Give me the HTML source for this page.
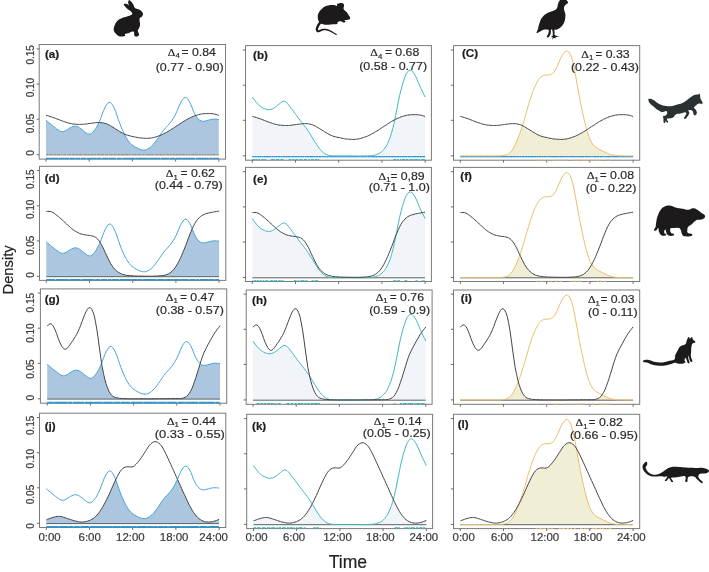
<!DOCTYPE html>
<html lang="en"><head><meta charset="utf-8"><title>Activity overlap</title>
<style>html,body{margin:0;padding:0;background:#fff}svg{display:block;will-change:transform;opacity:0.999}text{stroke:#2d2d2d;stroke-width:0.2px;paint-order:stroke}</style></head>
<body><svg width="709" height="572" viewBox="0 0 709 572">
<rect width="709" height="572" fill="#fff"/>
<g font-family="'Liberation Sans', Arial, sans-serif">
<g>
<path d="M46.0 120.1 L47.3 121.3 L48.7 122.4 L50.0 123.6 L51.4 124.7 L52.7 125.8 L54.0 126.9 L55.4 127.9 L56.7 129.0 L58.1 129.9 L59.4 130.8 L60.7 131.4 L62.1 131.7 L63.4 131.6 L64.8 131.1 L66.1 130.4 L67.4 129.6 L68.8 128.7 L70.1 127.9 L71.5 127.2 L72.8 126.6 L74.1 126.2 L75.5 126.1 L76.8 126.4 L78.1 126.9 L79.5 127.7 L80.8 128.7 L82.2 129.7 L83.5 130.8 L84.8 131.9 L86.2 132.9 L87.5 133.7 L88.9 134.2 L90.2 134.1 L91.5 133.5 L92.9 132.2 L94.2 130.6 L95.6 128.8 L96.9 126.6 L98.2 124.1 L99.6 122.5 L100.9 122.6 L102.3 122.8 L103.6 123.0 L104.9 123.4 L106.3 123.8 L107.6 124.3 L109.0 125.0 L110.3 125.7 L111.6 126.5 L113.0 127.3 L114.3 128.1 L115.7 129.0 L117.0 129.9 L118.3 130.7 L119.7 131.5 L121.0 132.3 L122.4 133.1 L123.7 133.7 L125.0 135.5 L126.4 138.0 L127.7 140.1 L129.1 141.9 L130.4 143.4 L131.7 144.6 L133.1 145.6 L134.4 146.5 L135.7 147.3 L137.1 148.0 L138.4 148.7 L139.8 149.3 L141.1 149.7 L142.4 150.0 L143.8 150.1 L145.1 150.0 L146.5 149.6 L147.8 149.0 L149.1 148.2 L150.5 147.2 L151.8 146.0 L153.2 144.6 L154.5 143.0 L155.8 141.3 L157.2 139.4 L158.5 137.5 L159.9 135.5 L161.2 135.0 L162.5 134.4 L163.9 133.7 L165.2 133.0 L166.6 132.3 L167.9 131.5 L169.2 130.7 L170.6 129.9 L171.9 129.1 L173.3 128.2 L174.6 127.3 L175.9 126.4 L177.3 125.5 L178.6 124.7 L180.0 123.8 L181.3 122.9 L182.6 122.1 L184.0 121.2 L185.3 120.4 L186.7 119.6 L188.0 118.9 L189.3 118.2 L190.7 117.5 L192.0 116.9 L193.3 116.4 L194.7 115.8 L196.0 116.1 L197.4 118.0 L198.7 119.4 L200.0 120.4 L201.4 121.0 L202.7 121.3 L204.1 121.2 L205.4 121.0 L206.7 120.6 L208.1 120.2 L209.4 119.9 L210.8 119.5 L212.1 119.3 L213.4 119.1 L214.8 119.1 L216.1 119.2 L217.5 119.3 L218.8 119.5 L218.8 154.8 L46.0 154.8Z" fill="#abc6de"/>
<path d="M46.0 155.5H218.8" stroke="#f3cfa6" stroke-width="0.9"/>
<path d="M46.0 154.7h2.1M48.6 154.7h3.0M51.9 154.7h1.5M53.9 154.7h2.1M56.5 154.7h3.6M60.7 154.7h1.9M63.3 154.7h2.8M66.8 154.7h1.7M69.0 154.7h2.3M72.0 154.7h2.7M75.4 154.7h3.3M79.2 154.7h3.5M83.5 154.7h3.7M87.6 154.7h2.0M90.1 154.7h3.1M93.7 154.7h2.5M96.8 154.7h3.0M100.4 154.7h3.8M105.0 154.7h3.2M108.9 154.7h3.9M113.4 154.7h3.3M117.4 154.7h2.9M120.7 154.7h3.6M124.7 154.7h3.5M128.5 154.7h2.2M131.5 154.7h1.6M133.4 154.7h3.3M137.5 154.7h4.0M142.2 154.7h2.3M145.1 154.7h1.6M147.2 154.7h3.0M150.5 154.7h3.7M155.0 154.7h3.7M159.3 154.7h2.8M162.6 154.7h2.9M166.3 154.7h2.8M169.7 154.7h2.1M172.6 154.7h2.8M175.7 154.7h2.5M178.6 154.7h3.0M182.0 154.7h3.1M185.7 154.7h2.4M188.7 154.7h1.6M190.9 154.7h3.9M195.3 154.7h3.0M198.8 154.7h2.3M201.7 154.7h2.3M204.6 154.7h1.6M206.9 154.7h2.3M209.8 154.7h2.1M212.4 154.7h3.2M216.2 154.7h2.3" stroke="#7f8790" stroke-width="1.0" fill="none"/>
<path d="M46.0 120.1 L47.3 121.3 L48.7 122.4 L50.0 123.6 L51.4 124.7 L52.7 125.8 L54.0 126.9 L55.4 127.9 L56.7 129.0 L58.1 129.9 L59.4 130.8 L60.7 131.4 L62.1 131.7 L63.4 131.6 L64.8 131.1 L66.1 130.4 L67.4 129.6 L68.8 128.7 L70.1 127.9 L71.5 127.2 L72.8 126.6 L74.1 126.2 L75.5 126.1 L76.8 126.4 L78.1 126.9 L79.5 127.7 L80.8 128.7 L82.2 129.7 L83.5 130.8 L84.8 131.9 L86.2 132.9 L87.5 133.7 L88.9 134.2 L90.2 134.1 L91.5 133.5 L92.9 132.2 L94.2 130.6 L95.6 128.8 L96.9 126.6 L98.2 124.1 L99.6 121.2 L100.9 117.7 L102.3 114.0 L103.6 110.6 L104.9 107.7 L106.3 105.2 L107.6 103.3 L109.0 102.3 L110.3 102.4 L111.6 103.7 L113.0 105.7 L114.3 108.4 L115.7 111.6 L117.0 115.4 L118.3 119.4 L119.7 123.2 L121.0 126.7 L122.4 129.9 L123.7 132.8 L125.0 135.5 L126.4 138.0 L127.7 140.1 L129.1 141.9 L130.4 143.4 L131.7 144.6 L133.1 145.6 L134.4 146.5 L135.7 147.3 L137.1 148.0 L138.4 148.7 L139.8 149.3 L141.1 149.7 L142.4 150.0 L143.8 150.1 L145.1 150.0 L146.5 149.6 L147.8 149.0 L149.1 148.2 L150.5 147.2 L151.8 146.0 L153.2 144.6 L154.5 143.0 L155.8 141.3 L157.2 139.4 L158.5 137.5 L159.9 135.5 L161.2 133.5 L162.5 131.6 L163.9 129.8 L165.2 128.2 L166.6 126.8 L167.9 125.4 L169.2 123.9 L170.6 122.3 L171.9 120.5 L173.3 118.4 L174.6 116.1 L175.9 113.5 L177.3 110.5 L178.6 107.2 L180.0 104.0 L181.3 101.4 L182.6 99.4 L184.0 98.0 L185.3 97.4 L186.7 97.9 L188.0 99.3 L189.3 101.4 L190.7 104.1 L192.0 107.4 L193.3 110.8 L194.7 113.7 L196.0 116.1 L197.4 118.0 L198.7 119.4 L200.0 120.4 L201.4 121.0 L202.7 121.3 L204.1 121.2 L205.4 121.0 L206.7 120.6 L208.1 120.2 L209.4 119.9 L210.8 119.5 L212.1 119.3 L213.4 119.1 L214.8 119.1 L216.1 119.2 L217.5 119.3 L218.8 119.5" fill="none" stroke="#45a5da" stroke-width="1.0"/>
<path d="M46.0 115.2 L47.3 115.6 L48.7 116.0 L50.0 116.5 L51.4 116.9 L52.7 117.3 L54.0 117.8 L55.4 118.3 L56.7 118.8 L58.1 119.3 L59.4 119.8 L60.7 120.4 L62.1 120.9 L63.4 121.4 L64.8 121.8 L66.1 122.3 L67.4 122.7 L68.8 123.1 L70.1 123.4 L71.5 123.7 L72.8 124.0 L74.1 124.1 L75.5 124.2 L76.8 124.3 L78.1 124.4 L79.5 124.4 L80.8 124.4 L82.2 124.3 L83.5 124.3 L84.8 124.1 L86.2 124.0 L87.5 123.8 L88.9 123.6 L90.2 123.4 L91.5 123.2 L92.9 123.0 L94.2 122.9 L95.6 122.7 L96.9 122.6 L98.2 122.5 L99.6 122.5 L100.9 122.6 L102.3 122.8 L103.6 123.0 L104.9 123.4 L106.3 123.8 L107.6 124.3 L109.0 125.0 L110.3 125.7 L111.6 126.5 L113.0 127.3 L114.3 128.1 L115.7 129.0 L117.0 129.9 L118.3 130.7 L119.7 131.5 L121.0 132.3 L122.4 133.1 L123.7 133.7 L125.0 134.4 L126.4 134.9 L127.7 135.3 L129.1 135.7 L130.4 136.0 L131.7 136.3 L133.1 136.6 L134.4 136.8 L135.7 137.2 L137.1 137.4 L138.4 137.7 L139.8 137.9 L141.1 138.0 L142.4 138.1 L143.8 138.2 L145.1 138.3 L146.5 138.3 L147.8 138.3 L149.1 138.2 L150.5 138.1 L151.8 137.9 L153.2 137.6 L154.5 137.3 L155.8 136.9 L157.2 136.5 L158.5 136.0 L159.9 135.5 L161.2 135.0 L162.5 134.4 L163.9 133.7 L165.2 133.0 L166.6 132.3 L167.9 131.5 L169.2 130.7 L170.6 129.9 L171.9 129.1 L173.3 128.2 L174.6 127.3 L175.9 126.4 L177.3 125.5 L178.6 124.7 L180.0 123.8 L181.3 122.9 L182.6 122.1 L184.0 121.2 L185.3 120.4 L186.7 119.6 L188.0 118.9 L189.3 118.2 L190.7 117.5 L192.0 116.9 L193.3 116.4 L194.7 115.8 L196.0 115.4 L197.4 115.0 L198.7 114.6 L200.0 114.3 L201.4 114.0 L202.7 113.8 L204.1 113.7 L205.4 113.6 L206.7 113.6 L208.1 113.6 L209.4 113.6 L210.8 113.6 L212.1 113.7 L213.4 113.9 L214.8 114.1 L216.1 114.5 L217.5 114.9 L218.8 115.4" fill="none" stroke="#454545" stroke-width="1.0"/>
<rect x="39.2" y="44.5" width="186.3" height="114.6" fill="none" stroke="#7a7a7a" stroke-width="1"/>
<path d="M36.6 154.7H39.2M36.6 119.2H39.2M36.6 84.1H39.2M36.6 48.9H39.2M46.0 159.1v2.4M89.2 159.1v2.4M132.4 159.1v2.4M175.6 159.1v2.4M218.8 159.1v2.4" stroke="#6a6a6a" stroke-width="1" fill="none"/>
<path d="M46.0 158.5h12.4M58.8 158.5h10.2M69.4 158.5h5.5M75.3 158.5h5.1M81.0 158.5h5.0M86.6 158.5h10.1M97.1 158.5h4.4M102.1 158.5h6.0M108.5 158.5h7.6M116.8 158.5h4.7M122.2 158.5h12.7M135.2 158.5h13.5M149.0 158.5h11.2M160.7 158.5h8.7M169.8 158.5h5.5M175.8 158.5h6.2M182.2 158.5h12.9M195.8 158.5h12.9M209.2 158.5h3.1M212.6 158.5h6.2" stroke="#2b95d2" stroke-width="1.6" fill="none"/>
<text transform="translate(44.9 58.0) scale(1.07 1)" font-size="10.9" font-weight="bold" fill="#1e1e1e" stroke="none">(a)</text>
<text transform="translate(167.8 55.6) scale(1.09 1)" font-size="11.3" fill="#2a2a2a"><tspan font-family="'Liberation Serif', serif" font-size="10.8">Δ</tspan><tspan x="6.97" dy="2.6" font-size="7.2">4</tspan><tspan x="14.47" dy="-2.6" text-anchor="middle" font-size="10.4"> =</tspan><tspan x="44.13" text-anchor="end"> 0.84</tspan></text>
<text transform="translate(223.6 70.5) scale(1.105 1)" font-size="11.3" text-anchor="end" fill="#2a2a2a">(0.77 - 0.90)</text>
</g>
<g>
<path d="M252.3 116.3 L253.6 116.7 L255.0 117.1 L256.3 117.6 L257.7 118.0 L259.0 118.4 L260.3 118.9 L261.7 119.4 L263.0 119.9 L264.4 120.4 L265.7 120.9 L267.0 121.5 L268.4 122.0 L269.7 122.5 L271.1 122.9 L272.4 123.4 L273.7 123.8 L275.1 124.2 L276.4 124.5 L277.8 124.8 L279.1 125.1 L280.4 125.2 L281.8 125.3 L283.1 125.4 L284.4 125.5 L285.8 125.5 L287.1 125.5 L288.5 125.4 L289.8 125.4 L291.1 125.2 L292.5 125.1 L293.8 124.9 L295.2 124.7 L296.5 124.5 L297.8 124.3 L299.2 124.1 L300.5 124.0 L301.9 123.8 L303.2 124.2 L304.5 125.9 L305.9 127.7 L307.2 129.6 L308.6 131.5 L309.9 133.6 L311.2 135.8 L312.6 138.0 L313.9 140.3 L315.3 142.4 L316.6 144.5 L317.9 146.5 L319.3 148.4 L320.6 150.0 L322.0 151.4 L323.3 152.6 L324.6 153.6 L326.0 154.4 L327.3 154.9 L328.7 155.3 L330.0 155.6 L331.3 155.8 L332.7 155.9 L334.0 155.9 L335.4 155.9 L336.7 155.9 L338.0 155.9 L339.4 155.9 L340.7 155.9 L342.0 155.9 L343.4 155.9 L344.7 155.9 L346.1 155.9 L347.4 155.9 L348.7 155.9 L350.1 155.9 L351.4 155.9 L352.8 155.9 L354.1 155.9 L355.4 155.9 L356.8 156.0 L358.1 156.0 L359.5 156.0 L360.8 156.0 L362.1 156.0 L363.5 156.0 L364.8 155.9 L366.2 155.9 L367.5 155.8 L368.8 155.8 L370.2 155.7 L371.5 155.6 L372.9 155.5 L374.2 155.2 L375.5 154.9 L376.9 154.4 L378.2 153.9 L379.6 153.3 L380.9 152.4 L382.2 151.2 L383.6 149.8 L384.9 148.1 L386.3 146.1 L387.6 143.5 L388.9 140.4 L390.3 136.9 L391.6 132.6 L393.0 127.6 L394.3 121.9 L395.6 119.3 L397.0 118.6 L398.3 118.0 L399.6 117.5 L401.0 116.9 L402.3 116.5 L403.7 116.1 L405.0 115.7 L406.3 115.4 L407.7 115.1 L409.0 114.9 L410.4 114.8 L411.7 114.7 L413.0 114.7 L414.4 114.7 L415.7 114.7 L417.1 114.7 L418.4 114.8 L419.7 115.0 L421.1 115.2 L422.4 115.6 L423.8 116.0 L425.1 116.5 L425.1 155.9 L252.3 155.9Z" fill="#f1f5f9"/>
<path d="M252.3 156.7H425.1" stroke="#8cc4e8" stroke-width="1.3"/>
<path d="M252.3 156.7h1.9M254.8 156.7h1.8M257.2 156.7h2.0M259.6 156.7h1.4M261.7 156.7h1.4M263.7 156.7h2.8M266.8 156.7h2.4M269.5 156.7h1.6M271.6 156.7h1.9M274.2 156.7h1.0M275.5 156.7h1.3M277.5 156.7h2.9M280.9 156.7h1.7M283.0 156.7h2.4M285.9 156.7h1.4M287.6 156.7h2.2M290.3 156.7h1.2M291.9 156.7h2.3M294.7 156.7h2.8M298.0 156.7h1.8M300.4 156.7h1.9M302.8 156.7h1.5M304.9 156.7h1.2M306.5 156.7h2.9M309.9 156.7h3.0M313.3 156.7h2.0M315.9 156.7h2.5M319.0 156.7h2.5M322.0 156.7h1.2M323.5 156.7h1.3M325.2 156.7h1.2M327.0 156.7h1.4M329.0 156.7h1.3M330.9 156.7h2.8M334.3 156.7h2.8M337.6 156.7h2.1M340.1 156.7h2.6M343.1 156.7h1.7M345.4 156.7h1.5M347.3 156.7h2.4M350.1 156.7h1.8M352.4 156.7h1.9M354.8 156.7h3.1M358.6 156.7h1.4M360.5 156.7h2.5M363.5 156.7h2.4M366.3 156.7h1.2M368.1 156.7h2.1M370.9 156.7h1.4M372.7 156.7h2.3M375.3 156.7h2.5M378.3 156.7h2.6M381.5 156.7h2.3M384.1 156.7h1.1M385.6 156.7h1.4M387.5 156.7h2.7M390.9 156.7h2.1M393.4 156.7h2.8M396.8 156.7h2.1M399.5 156.7h1.9M402.0 156.7h2.0M404.4 156.7h2.6M407.7 156.7h2.9M411.0 156.7h1.6M413.1 156.7h2.9M416.4 156.7h2.9M419.8 156.7h2.6M422.7 156.7h2.4" stroke="#2f92d2" stroke-width="1.3" fill="none"/>
<path d="M252.3 97.0 L253.6 98.9 L255.0 100.7 L256.3 102.4 L257.7 104.0 L259.0 105.3 L260.3 106.4 L261.7 107.3 L263.0 108.1 L264.4 108.7 L265.7 109.2 L267.0 109.5 L268.4 109.7 L269.7 109.6 L271.1 109.4 L272.4 108.9 L273.7 108.2 L275.1 107.3 L276.4 106.3 L277.8 105.2 L279.1 104.1 L280.4 103.0 L281.8 102.0 L283.1 101.3 L284.4 101.3 L285.8 101.9 L287.1 103.2 L288.5 104.8 L289.8 106.6 L291.1 108.3 L292.5 110.0 L293.8 111.8 L295.2 113.6 L296.5 115.4 L297.8 117.3 L299.2 119.0 L300.5 120.8 L301.9 122.5 L303.2 124.2 L304.5 125.9 L305.9 127.7 L307.2 129.6 L308.6 131.5 L309.9 133.6 L311.2 135.8 L312.6 138.0 L313.9 140.3 L315.3 142.4 L316.6 144.5 L317.9 146.5 L319.3 148.4 L320.6 150.0 L322.0 151.4 L323.3 152.6 L324.6 153.6 L326.0 154.4 L327.3 154.9 L328.7 155.3 L330.0 155.6 L331.3 155.8 L332.7 155.9 L334.0 155.9 L335.4 155.9 L336.7 155.9 L338.0 155.9 L339.4 155.9 L340.7 155.9 L342.0 155.9 L343.4 155.9 L344.7 155.9 L346.1 155.9 L347.4 155.9 L348.7 155.9 L350.1 155.9 L351.4 155.9 L352.8 155.9 L354.1 155.9 L355.4 155.9 L356.8 156.0 L358.1 156.0 L359.5 156.0 L360.8 156.0 L362.1 156.0 L363.5 156.0 L364.8 155.9 L366.2 155.9 L367.5 155.8 L368.8 155.8 L370.2 155.7 L371.5 155.6 L372.9 155.5 L374.2 155.2 L375.5 154.9 L376.9 154.4 L378.2 153.9 L379.6 153.3 L380.9 152.4 L382.2 151.2 L383.6 149.8 L384.9 148.1 L386.3 146.1 L387.6 143.5 L388.9 140.4 L390.3 136.9 L391.6 132.6 L393.0 127.6 L394.3 121.9 L395.6 115.5 L397.0 108.6 L398.3 101.8 L399.6 95.6 L401.0 90.0 L402.3 85.0 L403.7 80.6 L405.0 76.7 L406.3 73.7 L407.7 71.7 L409.0 70.5 L410.4 70.2 L411.7 70.8 L413.0 72.1 L414.4 74.1 L415.7 76.5 L417.1 79.4 L418.4 82.6 L419.7 85.8 L421.1 88.7 L422.4 91.5 L423.8 94.3 L425.1 97.0" fill="none" stroke="#3fb8c5" stroke-width="1.0"/>
<path d="M252.3 116.3 L253.6 116.7 L255.0 117.1 L256.3 117.6 L257.7 118.0 L259.0 118.4 L260.3 118.9 L261.7 119.4 L263.0 119.9 L264.4 120.4 L265.7 120.9 L267.0 121.5 L268.4 122.0 L269.7 122.5 L271.1 122.9 L272.4 123.4 L273.7 123.8 L275.1 124.2 L276.4 124.5 L277.8 124.8 L279.1 125.1 L280.4 125.2 L281.8 125.3 L283.1 125.4 L284.4 125.5 L285.8 125.5 L287.1 125.5 L288.5 125.4 L289.8 125.4 L291.1 125.2 L292.5 125.1 L293.8 124.9 L295.2 124.7 L296.5 124.5 L297.8 124.3 L299.2 124.1 L300.5 124.0 L301.9 123.8 L303.2 123.7 L304.5 123.6 L305.9 123.6 L307.2 123.7 L308.6 123.9 L309.9 124.1 L311.2 124.5 L312.6 124.9 L313.9 125.4 L315.3 126.1 L316.6 126.8 L317.9 127.6 L319.3 128.4 L320.6 129.2 L322.0 130.1 L323.3 131.0 L324.6 131.8 L326.0 132.6 L327.3 133.4 L328.7 134.2 L330.0 134.8 L331.3 135.5 L332.7 136.0 L334.0 136.4 L335.4 136.8 L336.7 137.1 L338.0 137.4 L339.4 137.7 L340.7 137.9 L342.0 138.3 L343.4 138.5 L344.7 138.8 L346.1 139.0 L347.4 139.1 L348.7 139.2 L350.1 139.3 L351.4 139.4 L352.8 139.4 L354.1 139.4 L355.4 139.3 L356.8 139.2 L358.1 139.0 L359.5 138.7 L360.8 138.4 L362.1 138.0 L363.5 137.6 L364.8 137.1 L366.2 136.6 L367.5 136.1 L368.8 135.5 L370.2 134.8 L371.5 134.1 L372.9 133.4 L374.2 132.6 L375.5 131.8 L376.9 131.0 L378.2 130.2 L379.6 129.3 L380.9 128.4 L382.2 127.5 L383.6 126.6 L384.9 125.8 L386.3 124.9 L387.6 124.0 L388.9 123.2 L390.3 122.3 L391.6 121.5 L393.0 120.7 L394.3 120.0 L395.6 119.3 L397.0 118.6 L398.3 118.0 L399.6 117.5 L401.0 116.9 L402.3 116.5 L403.7 116.1 L405.0 115.7 L406.3 115.4 L407.7 115.1 L409.0 114.9 L410.4 114.8 L411.7 114.7 L413.0 114.7 L414.4 114.7 L415.7 114.7 L417.1 114.7 L418.4 114.8 L419.7 115.0 L421.1 115.2 L422.4 115.6 L423.8 116.0 L425.1 116.5" fill="none" stroke="#454545" stroke-width="1.0"/>
<rect x="245.5" y="45.6" width="185.9" height="114.6" fill="none" stroke="#7a7a7a" stroke-width="1"/>
<path d="M242.9 155.8H245.5M242.9 120.3H245.5M242.9 85.2H245.5M242.9 50.0H245.5M252.3 160.2v2.4M295.5 160.2v2.4M338.7 160.2v2.4M381.9 160.2v2.4M425.1 160.2v2.4" stroke="#6a6a6a" stroke-width="1" fill="none"/>
<path d="M252.3 159.5h2.7M255.4 159.5h2.0M258.4 159.5h1.6M261.6 159.5h2.2M264.3 159.5h1.8M270.9 159.5h3.8M276.0 159.5h3.3M280.5 159.5h3.0M288.7 159.5h2.6M292.3 159.5h2.1M295.5 159.5h2.7M299.4 159.5h2.9M303.8 159.5h3.0M308.2 159.5h1.4M310.9 159.5h2.8M314.9 159.5h2.4M317.9 159.5h1.2" stroke="#2fb3be" stroke-width="1.2" fill="none"/>
<path d="M393.4 159.5h2.6M396.9 159.5h1.8M400.1 159.5h1.1M401.9 159.5h3.3M406.1 159.5h2.2M409.6 159.5h2.1M412.2 159.5h1.8M414.5 159.5h3.3M418.5 159.5h1.6M421.3 159.5h3.4" stroke="#2fb3be" stroke-width="1.2" fill="none"/>
<text transform="translate(253.1 59.4) scale(1.07 1)" font-size="10.9" font-weight="bold" fill="#1e1e1e" stroke="none">(b)</text>
<text transform="translate(370.3 55.9) scale(1.09 1)" font-size="11.3" fill="#2a2a2a"><tspan font-family="'Liberation Serif', serif" font-size="10.8">Δ</tspan><tspan x="6.97" dy="2.6" font-size="7.2">4</tspan><tspan x="15.30" dy="-2.6" text-anchor="middle" font-size="10.4"> =</tspan><tspan x="44.95" text-anchor="end"> 0.68</tspan></text>
<text transform="translate(427.1 70.4) scale(1.105 1)" font-size="11.3" text-anchor="end" fill="#2a2a2a">(0.58 - 0.77)</text>
</g>
<g>
<path d="M460.3 155.9 L461.6 155.9 L463.0 155.9 L464.3 155.9 L465.7 155.9 L467.0 155.9 L468.3 155.9 L469.7 155.9 L471.0 155.9 L472.4 155.9 L473.7 155.9 L475.0 155.9 L476.4 155.9 L477.7 155.9 L479.1 155.9 L480.4 155.9 L481.7 155.9 L483.1 155.9 L484.4 155.9 L485.8 155.9 L487.1 155.9 L488.4 155.9 L489.8 155.9 L491.1 155.9 L492.4 155.9 L493.8 155.9 L495.1 155.9 L496.5 155.9 L497.8 155.8 L499.1 155.8 L500.5 155.8 L501.8 155.7 L503.2 155.6 L504.5 155.3 L505.8 155.0 L507.2 154.5 L508.5 153.8 L509.9 152.7 L511.2 151.3 L512.5 149.5 L513.9 147.2 L515.2 144.5 L516.6 141.5 L517.9 138.3 L519.2 134.9 L520.6 131.2 L521.9 127.2 L523.3 126.1 L524.6 126.8 L525.9 127.6 L527.3 128.4 L528.6 129.2 L530.0 130.1 L531.3 131.0 L532.6 131.8 L534.0 132.6 L535.3 133.4 L536.7 134.2 L538.0 134.8 L539.3 135.5 L540.7 136.0 L542.0 136.4 L543.4 136.8 L544.7 137.1 L546.0 137.4 L547.4 137.7 L548.7 137.9 L550.0 138.3 L551.4 138.5 L552.7 138.8 L554.1 139.0 L555.4 139.1 L556.7 139.2 L558.1 139.3 L559.4 139.4 L560.8 139.4 L562.1 139.4 L563.4 139.3 L564.8 139.2 L566.1 139.0 L567.5 138.7 L568.8 138.4 L570.1 138.0 L571.5 137.6 L572.8 137.1 L574.2 136.6 L575.5 136.1 L576.8 135.5 L578.2 134.8 L579.5 134.1 L580.9 133.4 L582.2 132.6 L583.5 131.8 L584.9 131.0 L586.2 130.2 L587.6 132.6 L588.9 136.6 L590.2 139.9 L591.6 142.5 L592.9 144.4 L594.3 145.9 L595.6 147.1 L596.9 148.0 L598.3 148.8 L599.6 149.6 L601.0 150.2 L602.3 150.8 L603.6 151.5 L605.0 152.1 L606.3 152.8 L607.6 153.4 L609.0 154.0 L610.3 154.5 L611.7 154.9 L613.0 155.2 L614.3 155.4 L615.7 155.6 L617.0 155.7 L618.4 155.8 L619.7 155.8 L621.0 155.8 L622.4 155.8 L623.7 155.9 L625.1 155.9 L626.4 155.9 L627.7 155.9 L629.1 155.9 L630.4 155.9 L631.8 155.9 L633.1 155.9 L633.1 155.9 L460.3 155.9Z" fill="#f0eed5"/>
<path d="M460.3 156.7H633.1" stroke="#8cc4e8" stroke-width="1.3"/>
<path d="M460.3 156.7h1.3M462.0 156.7h2.2M464.5 156.7h1.6M466.4 156.7h2.8M469.9 156.7h1.8M472.2 156.7h2.4M475.2 156.7h1.7M477.3 156.7h2.3M480.0 156.7h2.7M483.2 156.7h2.2M485.7 156.7h2.2M488.4 156.7h2.4M491.3 156.7h3.1M494.8 156.7h2.7M497.8 156.7h1.8M500.0 156.7h2.2M502.6 156.7h2.9M505.8 156.7h2.9M509.4 156.7h2.6M512.4 156.7h2.8M515.8 156.7h2.0M518.3 156.7h1.2M519.9 156.7h1.4M521.8 156.7h2.5M524.8 156.7h2.4M527.7 156.7h2.7M530.8 156.7h3.0M534.2 156.7h1.8M536.5 156.7h1.5M538.4 156.7h2.7M541.6 156.7h1.4M543.4 156.7h1.9M545.6 156.7h1.2M547.4 156.7h1.1M549.0 156.7h1.9M551.2 156.7h1.9M553.4 156.7h3.1M556.8 156.7h2.0M559.4 156.7h1.8M561.5 156.7h2.6M564.7 156.7h2.0M567.2 156.7h1.5M569.4 156.7h2.4M572.1 156.7h2.5M575.1 156.7h1.0M576.5 156.7h1.4M578.2 156.7h2.4M581.0 156.7h3.1M584.7 156.7h3.0M588.1 156.7h1.7M590.4 156.7h1.2M592.3 156.7h1.3M593.9 156.7h2.5M596.8 156.7h2.6M600.1 156.7h2.2M602.7 156.7h1.9M605.3 156.7h2.1M607.7 156.7h2.6M610.8 156.7h1.9M613.1 156.7h2.6M616.1 156.7h2.7M619.1 156.7h1.5M621.2 156.7h2.9M624.6 156.7h3.0M628.0 156.7h1.8M630.3 156.7h2.8" stroke="#2f92d2" stroke-width="1.3" fill="none"/>
<path d="M460.3 155.9 L461.6 155.9 L463.0 155.9 L464.3 155.9 L465.7 155.9 L467.0 155.9 L468.3 155.9 L469.7 155.9 L471.0 155.9 L472.4 155.9 L473.7 155.9 L475.0 155.9 L476.4 155.9 L477.7 155.9 L479.1 155.9 L480.4 155.9 L481.7 155.9 L483.1 155.9 L484.4 155.9 L485.8 155.9 L487.1 155.9 L488.4 155.9 L489.8 155.9 L491.1 155.9 L492.4 155.9 L493.8 155.9 L495.1 155.9 L496.5 155.9 L497.8 155.8 L499.1 155.8 L500.5 155.8 L501.8 155.7 L503.2 155.6 L504.5 155.3 L505.8 155.0 L507.2 154.5 L508.5 153.8 L509.9 152.7 L511.2 151.3 L512.5 149.5 L513.9 147.2 L515.2 144.5 L516.6 141.5 L517.9 138.3 L519.2 134.9 L520.6 131.2 L521.9 127.2 L523.3 123.0 L524.6 118.5 L525.9 113.8 L527.3 109.1 L528.6 104.6 L530.0 100.2 L531.3 96.0 L532.6 92.2 L534.0 88.8 L535.3 85.7 L536.7 82.9 L538.0 80.6 L539.3 78.7 L540.7 77.3 L542.0 76.2 L543.4 75.5 L544.7 75.2 L546.0 75.1 L547.4 75.0 L548.7 75.0 L550.0 74.8 L551.4 74.3 L552.7 73.5 L554.1 72.2 L555.4 70.0 L556.7 67.4 L558.1 64.5 L559.4 61.3 L560.8 58.1 L562.1 55.5 L563.4 53.4 L564.8 51.9 L566.1 51.0 L567.5 51.0 L568.8 52.0 L570.1 53.9 L571.5 57.2 L572.8 62.2 L574.2 68.2 L575.5 75.1 L576.8 82.6 L578.2 90.2 L579.5 97.4 L580.9 104.2 L582.2 110.6 L583.5 116.7 L584.9 122.6 L586.2 128.0 L587.6 132.6 L588.9 136.6 L590.2 139.9 L591.6 142.5 L592.9 144.4 L594.3 145.9 L595.6 147.1 L596.9 148.0 L598.3 148.8 L599.6 149.6 L601.0 150.2 L602.3 150.8 L603.6 151.5 L605.0 152.1 L606.3 152.8 L607.6 153.4 L609.0 154.0 L610.3 154.5 L611.7 154.9 L613.0 155.2 L614.3 155.4 L615.7 155.6 L617.0 155.7 L618.4 155.8 L619.7 155.8 L621.0 155.8 L622.4 155.8 L623.7 155.9 L625.1 155.9 L626.4 155.9 L627.7 155.9 L629.1 155.9 L630.4 155.9 L631.8 155.9 L633.1 155.9" fill="none" stroke="#ebbf6a" stroke-width="1.0"/>
<path d="M460.3 116.3 L461.6 116.7 L463.0 117.1 L464.3 117.6 L465.7 118.0 L467.0 118.4 L468.3 118.9 L469.7 119.4 L471.0 119.9 L472.4 120.4 L473.7 120.9 L475.0 121.5 L476.4 122.0 L477.7 122.5 L479.1 122.9 L480.4 123.4 L481.7 123.8 L483.1 124.2 L484.4 124.5 L485.8 124.8 L487.1 125.1 L488.4 125.2 L489.8 125.3 L491.1 125.4 L492.4 125.5 L493.8 125.5 L495.1 125.5 L496.5 125.4 L497.8 125.4 L499.1 125.2 L500.5 125.1 L501.8 124.9 L503.2 124.7 L504.5 124.5 L505.8 124.3 L507.2 124.1 L508.5 124.0 L509.9 123.8 L511.2 123.7 L512.5 123.6 L513.9 123.6 L515.2 123.7 L516.6 123.9 L517.9 124.1 L519.2 124.5 L520.6 124.9 L521.9 125.4 L523.3 126.1 L524.6 126.8 L525.9 127.6 L527.3 128.4 L528.6 129.2 L530.0 130.1 L531.3 131.0 L532.6 131.8 L534.0 132.6 L535.3 133.4 L536.7 134.2 L538.0 134.8 L539.3 135.5 L540.7 136.0 L542.0 136.4 L543.4 136.8 L544.7 137.1 L546.0 137.4 L547.4 137.7 L548.7 137.9 L550.0 138.3 L551.4 138.5 L552.7 138.8 L554.1 139.0 L555.4 139.1 L556.7 139.2 L558.1 139.3 L559.4 139.4 L560.8 139.4 L562.1 139.4 L563.4 139.3 L564.8 139.2 L566.1 139.0 L567.5 138.7 L568.8 138.4 L570.1 138.0 L571.5 137.6 L572.8 137.1 L574.2 136.6 L575.5 136.1 L576.8 135.5 L578.2 134.8 L579.5 134.1 L580.9 133.4 L582.2 132.6 L583.5 131.8 L584.9 131.0 L586.2 130.2 L587.6 129.3 L588.9 128.4 L590.2 127.5 L591.6 126.6 L592.9 125.8 L594.3 124.9 L595.6 124.0 L596.9 123.2 L598.3 122.3 L599.6 121.5 L601.0 120.7 L602.3 120.0 L603.6 119.3 L605.0 118.6 L606.3 118.0 L607.6 117.5 L609.0 116.9 L610.3 116.5 L611.7 116.1 L613.0 115.7 L614.3 115.4 L615.7 115.1 L617.0 114.9 L618.4 114.8 L619.7 114.7 L621.0 114.7 L622.4 114.7 L623.7 114.7 L625.1 114.7 L626.4 114.8 L627.7 115.0 L629.1 115.2 L630.4 115.6 L631.8 116.0 L633.1 116.5" fill="none" stroke="#454545" stroke-width="1.0"/>
<rect x="453.5" y="45.6" width="186.2" height="114.6" fill="none" stroke="#7a7a7a" stroke-width="1"/>
<path d="M450.9 155.8H453.5M450.9 120.3H453.5M450.9 85.2H453.5M450.9 50.0H453.5M460.3 160.2v2.4M503.5 160.2v2.4M546.7 160.2v2.4M589.9 160.2v2.4M633.1 160.2v2.4" stroke="#6a6a6a" stroke-width="1" fill="none"/>
<path d="M535.9 159.9h1.2M538.6 159.9h1.5M540.8 159.9h2.3M545.9 159.9h2.1M553.2 159.9h1.4M555.2 159.9h2.7M558.4 159.9h2.9M563.2 159.9h1.2M565.2 159.9h2.7M572.8 159.9h2.2M575.7 159.9h2.7M580.1 159.9h1.4M582.7 159.9h2.5M586.2 159.9h2.0M589.5 159.9h2.5M593.4 159.9h2.2M596.7 159.9h3.0M600.8 159.9h1.2M607.4 159.9h3.0" stroke="#efc77a" stroke-width="1.0" fill="none"/>
<text transform="translate(461.9 56.5) scale(1.07 1)" font-size="10.9" font-weight="bold" fill="#1e1e1e" stroke="none">(C)</text>
<text transform="translate(581.3 57.8) scale(1.09 1)" font-size="11.3" fill="#2a2a2a"><tspan font-family="'Liberation Serif', serif" font-size="10.8">Δ</tspan><tspan x="6.97" dy="2.6" font-size="7.2">1</tspan><tspan x="14.66" dy="-2.6" text-anchor="middle" font-size="10.4"> =</tspan><tspan x="44.31" text-anchor="end"> 0.33</tspan></text>
<text transform="translate(638.9 71.1) scale(1.105 1)" font-size="11.3" text-anchor="end" fill="#2a2a2a">(0.22 - 0.43)</text>
</g>
<g>
<path d="M46.3 241.8 L47.6 243.0 L49.0 244.1 L50.3 245.3 L51.7 246.4 L53.0 247.5 L54.3 248.6 L55.7 249.6 L57.0 250.7 L58.4 251.6 L59.7 252.5 L61.0 253.1 L62.4 253.4 L63.7 253.3 L65.1 252.8 L66.4 252.1 L67.7 251.3 L69.1 250.4 L70.4 249.6 L71.8 248.9 L73.1 248.3 L74.4 247.9 L75.8 247.8 L77.1 248.1 L78.4 248.6 L79.8 249.4 L81.1 250.4 L82.5 251.4 L83.8 252.5 L85.1 253.6 L86.5 254.6 L87.8 255.4 L89.2 255.9 L90.5 255.8 L91.8 255.2 L93.2 253.9 L94.5 252.3 L95.9 250.5 L97.2 248.3 L98.5 245.8 L99.9 242.9 L101.2 244.3 L102.6 246.8 L103.9 249.6 L105.2 252.5 L106.6 255.3 L107.9 258.2 L109.3 260.9 L110.6 263.4 L111.9 265.6 L113.3 267.5 L114.6 269.1 L116.0 270.4 L117.3 271.5 L118.6 272.5 L120.0 273.2 L121.3 273.9 L122.7 274.4 L124.0 274.7 L125.3 275.0 L126.7 275.3 L128.0 275.5 L129.4 275.6 L130.7 275.7 L132.0 275.8 L133.4 275.9 L134.7 276.0 L136.0 276.0 L137.4 276.0 L138.7 276.1 L140.1 276.1 L141.4 276.1 L142.7 276.1 L144.1 276.2 L145.4 276.2 L146.8 276.2 L148.1 276.2 L149.4 276.2 L150.8 276.2 L152.1 276.2 L153.5 276.2 L154.8 276.1 L156.1 276.1 L157.5 276.0 L158.8 275.9 L160.2 275.8 L161.5 275.7 L162.8 275.5 L164.2 275.3 L165.5 274.9 L166.9 274.5 L168.2 273.9 L169.5 273.2 L170.9 272.2 L172.2 271.1 L173.6 269.6 L174.9 268.0 L176.2 266.0 L177.6 263.7 L178.9 261.2 L180.3 258.4 L181.6 255.5 L182.9 252.3 L184.3 249.1 L185.6 245.7 L187.0 242.1 L188.3 238.5 L189.6 235.0 L191.0 231.7 L192.3 229.1 L193.6 232.5 L195.0 235.4 L196.3 237.8 L197.7 239.7 L199.0 241.1 L200.3 242.1 L201.7 242.7 L203.0 243.0 L204.4 242.9 L205.7 242.7 L207.0 242.3 L208.4 241.9 L209.7 241.6 L211.1 241.2 L212.4 241.0 L213.7 240.8 L215.1 240.8 L216.4 240.9 L217.8 241.0 L219.1 241.2 L219.1 276.5 L46.3 276.5Z" fill="#abc6de"/>
<path d="M46.3 276.7H219.1" stroke="#5c5e60" stroke-width="1"/>
<path d="M46.3 241.8 L47.6 243.0 L49.0 244.1 L50.3 245.3 L51.7 246.4 L53.0 247.5 L54.3 248.6 L55.7 249.6 L57.0 250.7 L58.4 251.6 L59.7 252.5 L61.0 253.1 L62.4 253.4 L63.7 253.3 L65.1 252.8 L66.4 252.1 L67.7 251.3 L69.1 250.4 L70.4 249.6 L71.8 248.9 L73.1 248.3 L74.4 247.9 L75.8 247.8 L77.1 248.1 L78.4 248.6 L79.8 249.4 L81.1 250.4 L82.5 251.4 L83.8 252.5 L85.1 253.6 L86.5 254.6 L87.8 255.4 L89.2 255.9 L90.5 255.8 L91.8 255.2 L93.2 253.9 L94.5 252.3 L95.9 250.5 L97.2 248.3 L98.5 245.8 L99.9 242.9 L101.2 239.4 L102.6 235.7 L103.9 232.3 L105.2 229.4 L106.6 226.9 L107.9 225.0 L109.3 224.0 L110.6 224.1 L111.9 225.4 L113.3 227.4 L114.6 230.1 L116.0 233.3 L117.3 237.1 L118.6 241.1 L120.0 244.9 L121.3 248.4 L122.7 251.6 L124.0 254.5 L125.3 257.2 L126.7 259.7 L128.0 261.8 L129.4 263.6 L130.7 265.1 L132.0 266.3 L133.4 267.3 L134.7 268.2 L136.0 269.0 L137.4 269.7 L138.7 270.4 L140.1 271.0 L141.4 271.4 L142.7 271.7 L144.1 271.8 L145.4 271.7 L146.8 271.3 L148.1 270.7 L149.4 269.9 L150.8 268.9 L152.1 267.7 L153.5 266.3 L154.8 264.7 L156.1 263.0 L157.5 261.1 L158.8 259.2 L160.2 257.2 L161.5 255.2 L162.8 253.3 L164.2 251.5 L165.5 249.9 L166.9 248.5 L168.2 247.1 L169.5 245.6 L170.9 244.0 L172.2 242.2 L173.6 240.1 L174.9 237.8 L176.2 235.2 L177.6 232.2 L178.9 228.9 L180.3 225.7 L181.6 223.1 L182.9 221.1 L184.3 219.7 L185.6 219.1 L187.0 219.6 L188.3 221.0 L189.6 223.1 L191.0 225.8 L192.3 229.1 L193.6 232.5 L195.0 235.4 L196.3 237.8 L197.7 239.7 L199.0 241.1 L200.3 242.1 L201.7 242.7 L203.0 243.0 L204.4 242.9 L205.7 242.7 L207.0 242.3 L208.4 241.9 L209.7 241.6 L211.1 241.2 L212.4 241.0 L213.7 240.8 L215.1 240.8 L216.4 240.9 L217.8 241.0 L219.1 241.2" fill="none" stroke="#45a5da" stroke-width="1.0"/>
<path d="M46.3 211.5 L47.6 211.4 L49.0 211.4 L50.3 211.5 L51.7 211.8 L53.0 212.5 L54.3 213.4 L55.7 214.4 L57.0 215.5 L58.4 216.6 L59.7 217.7 L61.0 218.9 L62.4 220.1 L63.7 221.3 L65.1 222.6 L66.4 223.8 L67.7 225.1 L69.1 226.3 L70.4 227.5 L71.8 228.7 L73.1 229.7 L74.4 230.6 L75.8 231.5 L77.1 232.2 L78.4 232.9 L79.8 233.5 L81.1 234.0 L82.5 234.3 L83.8 234.6 L85.1 234.9 L86.5 235.1 L87.8 235.3 L89.2 235.4 L90.5 235.6 L91.8 235.9 L93.2 236.2 L94.5 236.7 L95.9 237.5 L97.2 238.6 L98.5 240.2 L99.9 242.1 L101.2 244.3 L102.6 246.8 L103.9 249.6 L105.2 252.5 L106.6 255.3 L107.9 258.2 L109.3 260.9 L110.6 263.4 L111.9 265.6 L113.3 267.5 L114.6 269.1 L116.0 270.4 L117.3 271.5 L118.6 272.5 L120.0 273.2 L121.3 273.9 L122.7 274.4 L124.0 274.7 L125.3 275.0 L126.7 275.3 L128.0 275.5 L129.4 275.6 L130.7 275.7 L132.0 275.8 L133.4 275.9 L134.7 276.0 L136.0 276.0 L137.4 276.0 L138.7 276.1 L140.1 276.1 L141.4 276.1 L142.7 276.1 L144.1 276.2 L145.4 276.2 L146.8 276.2 L148.1 276.2 L149.4 276.2 L150.8 276.2 L152.1 276.2 L153.5 276.2 L154.8 276.1 L156.1 276.1 L157.5 276.0 L158.8 275.9 L160.2 275.8 L161.5 275.7 L162.8 275.5 L164.2 275.3 L165.5 274.9 L166.9 274.5 L168.2 273.9 L169.5 273.2 L170.9 272.2 L172.2 271.1 L173.6 269.6 L174.9 268.0 L176.2 266.0 L177.6 263.7 L178.9 261.2 L180.3 258.4 L181.6 255.5 L182.9 252.3 L184.3 249.1 L185.6 245.7 L187.0 242.1 L188.3 238.5 L189.6 235.0 L191.0 231.7 L192.3 228.6 L193.6 225.7 L195.0 223.2 L196.3 221.1 L197.7 219.4 L199.0 217.9 L200.3 216.6 L201.7 215.7 L203.0 214.9 L204.4 214.3 L205.7 213.8 L207.0 213.4 L208.4 213.1 L209.7 212.8 L211.1 212.5 L212.4 212.2 L213.7 212.0 L215.1 211.7 L216.4 211.5 L217.8 211.3 L219.1 211.1" fill="none" stroke="#454545" stroke-width="1.0"/>
<rect x="39.5" y="166.3" width="186.3" height="114.1" fill="none" stroke="#7a7a7a" stroke-width="1"/>
<path d="M36.9 276.4H39.5M36.9 240.9H39.5M36.9 205.8H39.5M36.9 170.6H39.5M46.3 280.4v2.4M89.5 280.4v2.4M132.7 280.4v2.4M175.9 280.4v2.4M219.1 280.4v2.4" stroke="#6a6a6a" stroke-width="1" fill="none"/>
<path d="M46.3 279.8h8.9M55.9 279.8h12.9M69.2 279.8h11.5M81.4 279.8h13.1M95.2 279.8h5.0M100.8 279.8h6.2M107.6 279.8h3.4M111.4 279.8h7.8M119.7 279.8h11.2M131.2 279.8h6.3M137.7 279.8h4.7M142.9 279.8h13.7M157.3 279.8h7.1M164.8 279.8h8.1M173.3 279.8h7.0M180.6 279.8h8.1M189.3 279.8h6.3M196.2 279.8h3.1M199.8 279.8h8.9M208.9 279.8h5.2M214.6 279.8h4.5" stroke="#2b95d2" stroke-width="1.6" fill="none"/>
<text transform="translate(44.7 182.1) scale(1.07 1)" font-size="10.9" font-weight="bold" fill="#1e1e1e" stroke="none">(d)</text>
<text transform="translate(165.8 177.0) scale(1.09 1)" font-size="11.3" fill="#2a2a2a"><tspan font-family="'Liberation Serif', serif" font-size="10.8">Δ</tspan><tspan x="6.97" dy="2.6" font-size="7.2">1</tspan><tspan x="15.39" dy="-2.6" text-anchor="middle" font-size="10.4"> =</tspan><tspan x="45.05" text-anchor="end"> 0.62</tspan></text>
<text transform="translate(222.7 188.6) scale(1.105 1)" font-size="11.3" text-anchor="end" fill="#2a2a2a">(0.44 - 0.79)</text>
</g>
<g>
<path d="M252.3 218.7 L253.6 220.6 L255.0 222.4 L256.3 224.1 L257.7 225.7 L259.0 227.0 L260.3 228.1 L261.7 229.0 L263.0 229.8 L264.4 230.4 L265.7 230.9 L267.0 231.2 L268.4 231.4 L269.7 231.3 L271.1 231.1 L272.4 230.6 L273.7 229.9 L275.1 229.0 L276.4 228.6 L277.8 229.8 L279.1 230.8 L280.4 231.7 L281.8 232.6 L283.1 233.3 L284.4 234.0 L285.8 234.6 L287.1 235.1 L288.5 235.4 L289.8 235.7 L291.1 236.0 L292.5 236.2 L293.8 236.4 L295.2 236.5 L296.5 237.1 L297.8 239.0 L299.2 240.7 L300.5 242.5 L301.9 244.2 L303.2 245.9 L304.5 247.6 L305.9 249.4 L307.2 251.3 L308.6 253.2 L309.9 255.3 L311.2 257.5 L312.6 259.7 L313.9 262.0 L315.3 264.1 L316.6 266.2 L317.9 268.2 L319.3 270.1 L320.6 271.7 L322.0 273.1 L323.3 274.3 L324.6 275.3 L326.0 276.1 L327.3 276.6 L328.7 277.0 L330.0 277.3 L331.3 277.5 L332.7 277.6 L334.0 277.6 L335.4 277.6 L336.7 277.6 L338.0 277.6 L339.4 277.6 L340.7 277.6 L342.0 277.6 L343.4 277.6 L344.7 277.6 L346.1 277.6 L347.4 277.6 L348.7 277.6 L350.1 277.6 L351.4 277.6 L352.8 277.6 L354.1 277.6 L355.4 277.6 L356.8 277.7 L358.1 277.7 L359.5 277.7 L360.8 277.7 L362.1 277.7 L363.5 277.7 L364.8 277.6 L366.2 277.6 L367.5 277.5 L368.8 277.5 L370.2 277.4 L371.5 277.3 L372.9 277.2 L374.2 276.9 L375.5 276.6 L376.9 276.1 L378.2 275.6 L379.6 275.0 L380.9 274.1 L382.2 272.9 L383.6 271.5 L384.9 269.8 L386.3 267.8 L387.6 265.2 L388.9 262.1 L390.3 258.6 L391.6 254.3 L393.0 249.3 L394.3 243.6 L395.6 237.2 L397.0 232.8 L398.3 229.7 L399.6 226.8 L401.0 224.3 L402.3 222.2 L403.7 220.5 L405.0 219.0 L406.3 217.7 L407.7 216.8 L409.0 216.0 L410.4 215.4 L411.7 214.9 L413.0 214.5 L414.4 214.2 L415.7 213.9 L417.1 213.6 L418.4 213.3 L419.7 213.1 L421.1 212.8 L422.4 213.2 L423.8 216.0 L425.1 218.7 L425.1 277.6 L252.3 277.6Z" fill="#f1f5f9"/>
<path d="M252.3 277.8H425.1" stroke="#5c5e60" stroke-width="1"/>
<path d="M252.3 218.7 L253.6 220.6 L255.0 222.4 L256.3 224.1 L257.7 225.7 L259.0 227.0 L260.3 228.1 L261.7 229.0 L263.0 229.8 L264.4 230.4 L265.7 230.9 L267.0 231.2 L268.4 231.4 L269.7 231.3 L271.1 231.1 L272.4 230.6 L273.7 229.9 L275.1 229.0 L276.4 228.0 L277.8 226.9 L279.1 225.8 L280.4 224.7 L281.8 223.7 L283.1 223.0 L284.4 223.0 L285.8 223.6 L287.1 224.9 L288.5 226.5 L289.8 228.3 L291.1 230.0 L292.5 231.7 L293.8 233.5 L295.2 235.3 L296.5 237.1 L297.8 239.0 L299.2 240.7 L300.5 242.5 L301.9 244.2 L303.2 245.9 L304.5 247.6 L305.9 249.4 L307.2 251.3 L308.6 253.2 L309.9 255.3 L311.2 257.5 L312.6 259.7 L313.9 262.0 L315.3 264.1 L316.6 266.2 L317.9 268.2 L319.3 270.1 L320.6 271.7 L322.0 273.1 L323.3 274.3 L324.6 275.3 L326.0 276.1 L327.3 276.6 L328.7 277.0 L330.0 277.3 L331.3 277.5 L332.7 277.6 L334.0 277.6 L335.4 277.6 L336.7 277.6 L338.0 277.6 L339.4 277.6 L340.7 277.6 L342.0 277.6 L343.4 277.6 L344.7 277.6 L346.1 277.6 L347.4 277.6 L348.7 277.6 L350.1 277.6 L351.4 277.6 L352.8 277.6 L354.1 277.6 L355.4 277.6 L356.8 277.7 L358.1 277.7 L359.5 277.7 L360.8 277.7 L362.1 277.7 L363.5 277.7 L364.8 277.6 L366.2 277.6 L367.5 277.5 L368.8 277.5 L370.2 277.4 L371.5 277.3 L372.9 277.2 L374.2 276.9 L375.5 276.6 L376.9 276.1 L378.2 275.6 L379.6 275.0 L380.9 274.1 L382.2 272.9 L383.6 271.5 L384.9 269.8 L386.3 267.8 L387.6 265.2 L388.9 262.1 L390.3 258.6 L391.6 254.3 L393.0 249.3 L394.3 243.6 L395.6 237.2 L397.0 230.3 L398.3 223.5 L399.6 217.3 L401.0 211.7 L402.3 206.7 L403.7 202.3 L405.0 198.4 L406.3 195.4 L407.7 193.4 L409.0 192.2 L410.4 191.9 L411.7 192.5 L413.0 193.8 L414.4 195.8 L415.7 198.2 L417.1 201.1 L418.4 204.3 L419.7 207.5 L421.1 210.4 L422.4 213.2 L423.8 216.0 L425.1 218.7" fill="none" stroke="#3fb8c5" stroke-width="1.0"/>
<path d="M252.3 212.6 L253.6 212.5 L255.0 212.5 L256.3 212.6 L257.7 212.9 L259.0 213.6 L260.3 214.5 L261.7 215.5 L263.0 216.6 L264.4 217.7 L265.7 218.8 L267.0 220.0 L268.4 221.2 L269.7 222.4 L271.1 223.7 L272.4 224.9 L273.7 226.2 L275.1 227.4 L276.4 228.6 L277.8 229.8 L279.1 230.8 L280.4 231.7 L281.8 232.6 L283.1 233.3 L284.4 234.0 L285.8 234.6 L287.1 235.1 L288.5 235.4 L289.8 235.7 L291.1 236.0 L292.5 236.2 L293.8 236.4 L295.2 236.5 L296.5 236.7 L297.8 237.0 L299.2 237.3 L300.5 237.8 L301.9 238.6 L303.2 239.7 L304.5 241.3 L305.9 243.2 L307.2 245.4 L308.6 247.9 L309.9 250.7 L311.2 253.6 L312.6 256.4 L313.9 259.3 L315.3 262.0 L316.6 264.5 L317.9 266.7 L319.3 268.6 L320.6 270.2 L322.0 271.5 L323.3 272.6 L324.6 273.6 L326.0 274.3 L327.3 275.0 L328.7 275.5 L330.0 275.8 L331.3 276.1 L332.7 276.4 L334.0 276.6 L335.4 276.7 L336.7 276.8 L338.0 276.9 L339.4 277.0 L340.7 277.1 L342.0 277.1 L343.4 277.1 L344.7 277.2 L346.1 277.2 L347.4 277.2 L348.7 277.2 L350.1 277.3 L351.4 277.3 L352.8 277.3 L354.1 277.3 L355.4 277.3 L356.8 277.3 L358.1 277.3 L359.5 277.3 L360.8 277.2 L362.1 277.2 L363.5 277.1 L364.8 277.0 L366.2 276.9 L367.5 276.8 L368.8 276.6 L370.2 276.4 L371.5 276.0 L372.9 275.6 L374.2 275.0 L375.5 274.3 L376.9 273.3 L378.2 272.2 L379.6 270.7 L380.9 269.1 L382.2 267.1 L383.6 264.8 L384.9 262.3 L386.3 259.5 L387.6 256.6 L388.9 253.4 L390.3 250.2 L391.6 246.8 L393.0 243.2 L394.3 239.6 L395.6 236.1 L397.0 232.8 L398.3 229.7 L399.6 226.8 L401.0 224.3 L402.3 222.2 L403.7 220.5 L405.0 219.0 L406.3 217.7 L407.7 216.8 L409.0 216.0 L410.4 215.4 L411.7 214.9 L413.0 214.5 L414.4 214.2 L415.7 213.9 L417.1 213.6 L418.4 213.3 L419.7 213.1 L421.1 212.8 L422.4 212.6 L423.8 212.4 L425.1 212.2" fill="none" stroke="#454545" stroke-width="1.0"/>
<rect x="245.5" y="167.4" width="185.9" height="114.1" fill="none" stroke="#7a7a7a" stroke-width="1"/>
<path d="M242.9 277.5H245.5M242.9 242.0H245.5M242.9 206.9H245.5M242.9 171.7H245.5M252.3 281.5v2.4M295.5 281.5v2.4M338.7 281.5v2.4M381.9 281.5v2.4M425.1 281.5v2.4" stroke="#6a6a6a" stroke-width="1" fill="none"/>
<path d="M252.3 280.8h1.1M253.8 280.8h2.3M256.6 280.8h2.6M260.0 280.8h1.7M262.6 280.8h1.8M265.3 280.8h2.9M269.7 280.8h3.4M273.7 280.8h3.3M278.0 280.8h3.5M282.2 280.8h1.5M293.9 280.8h2.8M297.7 280.8h1.5M300.5 280.8h4.0M305.3 280.8h2.1M311.7 280.8h1.9M314.5 280.8h3.6" stroke="#2fb3be" stroke-width="1.2" fill="none"/>
<path d="M393.4 280.8h2.8M397.3 280.8h2.6M404.4 280.8h3.0M415.5 280.8h2.1M421.7 280.8h2.0M424.4 280.8h0.7" stroke="#2fb3be" stroke-width="1.2" fill="none"/>
<text transform="translate(253.1 183.1) scale(1.07 1)" font-size="10.9" font-weight="bold" fill="#1e1e1e" stroke="none">(e)</text>
<text transform="translate(378.6 179.7) scale(1.09 1)" font-size="11.3" fill="#2a2a2a"><tspan font-family="'Liberation Serif', serif" font-size="10.8">Δ</tspan><tspan x="6.97" dy="2.6" font-size="7.2">1</tspan><tspan x="12.64" dy="-2.6" text-anchor="middle" font-size="10.4"> =</tspan><tspan x="42.29" text-anchor="end"> 0,89</tspan></text>
<text transform="translate(429.8 191.1) scale(1.105 1)" font-size="11.3" text-anchor="end" fill="#2a2a2a">(0.71 - 1.0)</text>
</g>
<g>
<path d="M460.3 277.6 L461.6 277.6 L463.0 277.6 L464.3 277.6 L465.7 277.6 L467.0 277.6 L468.3 277.6 L469.7 277.6 L471.0 277.6 L472.4 277.6 L473.7 277.6 L475.0 277.6 L476.4 277.6 L477.7 277.6 L479.1 277.6 L480.4 277.6 L481.7 277.6 L483.1 277.6 L484.4 277.6 L485.8 277.6 L487.1 277.6 L488.4 277.6 L489.8 277.6 L491.1 277.6 L492.4 277.6 L493.8 277.6 L495.1 277.6 L496.5 277.6 L497.8 277.5 L499.1 277.5 L500.5 277.5 L501.8 277.4 L503.2 277.3 L504.5 277.0 L505.8 276.7 L507.2 276.2 L508.5 275.5 L509.9 274.4 L511.2 273.0 L512.5 271.2 L513.9 268.9 L515.2 266.2 L516.6 263.2 L517.9 260.0 L519.2 256.6 L520.6 256.4 L521.9 259.3 L523.3 262.0 L524.6 264.5 L525.9 266.7 L527.3 268.6 L528.6 270.2 L530.0 271.5 L531.3 272.6 L532.6 273.6 L534.0 274.3 L535.3 275.0 L536.7 275.5 L538.0 275.8 L539.3 276.1 L540.7 276.4 L542.0 276.6 L543.4 276.7 L544.7 276.8 L546.0 276.9 L547.4 277.0 L548.7 277.1 L550.0 277.1 L551.4 277.1 L552.7 277.2 L554.1 277.2 L555.4 277.2 L556.7 277.2 L558.1 277.3 L559.4 277.3 L560.8 277.3 L562.1 277.3 L563.4 277.3 L564.8 277.3 L566.1 277.3 L567.5 277.3 L568.8 277.2 L570.1 277.2 L571.5 277.1 L572.8 277.0 L574.2 276.9 L575.5 276.8 L576.8 276.6 L578.2 276.4 L579.5 276.0 L580.9 275.6 L582.2 275.0 L583.5 274.3 L584.9 273.3 L586.2 272.2 L587.6 270.7 L588.9 269.1 L590.2 267.1 L591.6 264.8 L592.9 266.1 L594.3 267.6 L595.6 268.8 L596.9 269.7 L598.3 270.5 L599.6 271.3 L601.0 271.9 L602.3 272.5 L603.6 273.2 L605.0 273.8 L606.3 274.5 L607.6 275.1 L609.0 275.7 L610.3 276.2 L611.7 276.6 L613.0 276.9 L614.3 277.1 L615.7 277.3 L617.0 277.4 L618.4 277.5 L619.7 277.5 L621.0 277.5 L622.4 277.5 L623.7 277.6 L625.1 277.6 L626.4 277.6 L627.7 277.6 L629.1 277.6 L630.4 277.6 L631.8 277.6 L633.1 277.6 L633.1 277.6 L460.3 277.6Z" fill="#f0eed5"/>
<path d="M460.3 277.8H633.1" stroke="#5c5e60" stroke-width="1"/>
<path d="M460.3 277.6 L461.6 277.6 L463.0 277.6 L464.3 277.6 L465.7 277.6 L467.0 277.6 L468.3 277.6 L469.7 277.6 L471.0 277.6 L472.4 277.6 L473.7 277.6 L475.0 277.6 L476.4 277.6 L477.7 277.6 L479.1 277.6 L480.4 277.6 L481.7 277.6 L483.1 277.6 L484.4 277.6 L485.8 277.6 L487.1 277.6 L488.4 277.6 L489.8 277.6 L491.1 277.6 L492.4 277.6 L493.8 277.6 L495.1 277.6 L496.5 277.6 L497.8 277.5 L499.1 277.5 L500.5 277.5 L501.8 277.4 L503.2 277.3 L504.5 277.0 L505.8 276.7 L507.2 276.2 L508.5 275.5 L509.9 274.4 L511.2 273.0 L512.5 271.2 L513.9 268.9 L515.2 266.2 L516.6 263.2 L517.9 260.0 L519.2 256.6 L520.6 252.9 L521.9 248.9 L523.3 244.7 L524.6 240.2 L525.9 235.5 L527.3 230.8 L528.6 226.3 L530.0 221.9 L531.3 217.7 L532.6 213.9 L534.0 210.5 L535.3 207.4 L536.7 204.6 L538.0 202.3 L539.3 200.4 L540.7 199.0 L542.0 197.9 L543.4 197.2 L544.7 196.9 L546.0 196.8 L547.4 196.7 L548.7 196.7 L550.0 196.5 L551.4 196.0 L552.7 195.2 L554.1 193.9 L555.4 191.7 L556.7 189.1 L558.1 186.2 L559.4 183.0 L560.8 179.8 L562.1 177.2 L563.4 175.1 L564.8 173.6 L566.1 172.7 L567.5 172.7 L568.8 173.7 L570.1 175.6 L571.5 178.9 L572.8 183.9 L574.2 189.9 L575.5 196.8 L576.8 204.3 L578.2 211.9 L579.5 219.1 L580.9 225.9 L582.2 232.3 L583.5 238.4 L584.9 244.3 L586.2 249.7 L587.6 254.3 L588.9 258.3 L590.2 261.6 L591.6 264.2 L592.9 266.1 L594.3 267.6 L595.6 268.8 L596.9 269.7 L598.3 270.5 L599.6 271.3 L601.0 271.9 L602.3 272.5 L603.6 273.2 L605.0 273.8 L606.3 274.5 L607.6 275.1 L609.0 275.7 L610.3 276.2 L611.7 276.6 L613.0 276.9 L614.3 277.1 L615.7 277.3 L617.0 277.4 L618.4 277.5 L619.7 277.5 L621.0 277.5 L622.4 277.5 L623.7 277.6 L625.1 277.6 L626.4 277.6 L627.7 277.6 L629.1 277.6 L630.4 277.6 L631.8 277.6 L633.1 277.6" fill="none" stroke="#ebbf6a" stroke-width="1.0"/>
<path d="M460.3 212.6 L461.6 212.5 L463.0 212.5 L464.3 212.6 L465.7 212.9 L467.0 213.6 L468.3 214.5 L469.7 215.5 L471.0 216.6 L472.4 217.7 L473.7 218.8 L475.0 220.0 L476.4 221.2 L477.7 222.4 L479.1 223.7 L480.4 224.9 L481.7 226.2 L483.1 227.4 L484.4 228.6 L485.8 229.8 L487.1 230.8 L488.4 231.7 L489.8 232.6 L491.1 233.3 L492.4 234.0 L493.8 234.6 L495.1 235.1 L496.5 235.4 L497.8 235.7 L499.1 236.0 L500.5 236.2 L501.8 236.4 L503.2 236.5 L504.5 236.7 L505.8 237.0 L507.2 237.3 L508.5 237.8 L509.9 238.6 L511.2 239.7 L512.5 241.3 L513.9 243.2 L515.2 245.4 L516.6 247.9 L517.9 250.7 L519.2 253.6 L520.6 256.4 L521.9 259.3 L523.3 262.0 L524.6 264.5 L525.9 266.7 L527.3 268.6 L528.6 270.2 L530.0 271.5 L531.3 272.6 L532.6 273.6 L534.0 274.3 L535.3 275.0 L536.7 275.5 L538.0 275.8 L539.3 276.1 L540.7 276.4 L542.0 276.6 L543.4 276.7 L544.7 276.8 L546.0 276.9 L547.4 277.0 L548.7 277.1 L550.0 277.1 L551.4 277.1 L552.7 277.2 L554.1 277.2 L555.4 277.2 L556.7 277.2 L558.1 277.3 L559.4 277.3 L560.8 277.3 L562.1 277.3 L563.4 277.3 L564.8 277.3 L566.1 277.3 L567.5 277.3 L568.8 277.2 L570.1 277.2 L571.5 277.1 L572.8 277.0 L574.2 276.9 L575.5 276.8 L576.8 276.6 L578.2 276.4 L579.5 276.0 L580.9 275.6 L582.2 275.0 L583.5 274.3 L584.9 273.3 L586.2 272.2 L587.6 270.7 L588.9 269.1 L590.2 267.1 L591.6 264.8 L592.9 262.3 L594.3 259.5 L595.6 256.6 L596.9 253.4 L598.3 250.2 L599.6 246.8 L601.0 243.2 L602.3 239.6 L603.6 236.1 L605.0 232.8 L606.3 229.7 L607.6 226.8 L609.0 224.3 L610.3 222.2 L611.7 220.5 L613.0 219.0 L614.3 217.7 L615.7 216.8 L617.0 216.0 L618.4 215.4 L619.7 214.9 L621.0 214.5 L622.4 214.2 L623.7 213.9 L625.1 213.6 L626.4 213.3 L627.7 213.1 L629.1 212.8 L630.4 212.6 L631.8 212.4 L633.1 212.2" fill="none" stroke="#454545" stroke-width="1.0"/>
<rect x="453.5" y="167.4" width="186.2" height="114.1" fill="none" stroke="#7a7a7a" stroke-width="1"/>
<path d="M450.9 277.5H453.5M450.9 242.0H453.5M450.9 206.9H453.5M450.9 171.7H453.5M460.3 281.5v2.4M503.5 281.5v2.4M546.7 281.5v2.4M589.9 281.5v2.4M633.1 281.5v2.4" stroke="#6a6a6a" stroke-width="1" fill="none"/>
<path d="M535.9 281.2h1.2M537.9 281.2h1.2M540.6 281.2h2.7M545.0 281.2h1.0M548.0 281.2h1.1M550.4 281.2h1.5M554.6 281.2h2.8M559.4 281.2h2.3M570.0 281.2h1.8M572.8 281.2h3.0M576.5 281.2h1.3M578.8 281.2h2.8M587.3 281.2h1.5M593.6 281.2h1.0M596.3 281.2h2.6M600.1 281.2h2.1M603.4 281.2h2.7" stroke="#efc77a" stroke-width="1.0" fill="none"/>
<text transform="translate(460.3 180.4) scale(1.07 1)" font-size="10.9" font-weight="bold" fill="#1e1e1e" stroke="none">(f)</text>
<text transform="translate(587.0 179.0) scale(1.09 1)" font-size="11.3" fill="#2a2a2a"><tspan font-family="'Liberation Serif', serif" font-size="10.8">Δ</tspan><tspan x="6.97" dy="2.6" font-size="7.2">1</tspan><tspan x="13.46" dy="-2.6" text-anchor="middle" font-size="10.4"> =</tspan><tspan x="43.12" text-anchor="end"> 0.08</tspan></text>
<text transform="translate(636.4 191.5) scale(1.105 1)" font-size="11.3" text-anchor="end" fill="#2a2a2a">(0 - 0.22)</text>
</g>
<g>
<path d="M47.2 364.2 L48.5 365.4 L49.9 366.5 L51.2 367.7 L52.6 368.8 L53.9 369.9 L55.2 371.0 L56.6 372.0 L57.9 373.1 L59.3 374.0 L60.6 374.9 L61.9 375.5 L63.3 375.8 L64.6 375.7 L66.0 375.2 L67.3 374.5 L68.6 373.7 L70.0 372.8 L71.3 372.0 L72.7 371.3 L74.0 370.7 L75.3 370.3 L76.7 370.2 L78.0 370.5 L79.3 371.0 L80.7 371.8 L82.0 372.8 L83.4 373.8 L84.7 374.9 L86.0 376.0 L87.4 377.0 L88.7 377.8 L90.1 378.3 L91.4 378.2 L92.7 377.6 L94.1 376.3 L95.4 374.7 L96.8 372.9 L98.1 370.7 L99.4 368.2 L100.8 365.3 L102.1 366.5 L103.5 373.4 L104.8 379.2 L106.1 383.8 L107.5 387.8 L108.8 391.0 L110.2 393.4 L111.5 395.1 L112.8 396.3 L114.2 397.0 L115.5 397.5 L116.9 397.8 L118.2 398.1 L119.5 398.3 L120.9 398.4 L122.2 398.5 L123.6 398.6 L124.9 398.6 L126.2 398.7 L127.6 398.7 L128.9 398.7 L130.3 398.8 L131.6 398.8 L132.9 398.8 L134.3 398.8 L135.6 398.8 L136.9 398.8 L138.3 398.8 L139.6 398.8 L141.0 398.8 L142.3 398.8 L143.6 398.8 L145.0 398.8 L146.3 398.8 L147.7 398.8 L149.0 398.8 L150.3 398.8 L151.7 398.8 L153.0 398.8 L154.4 398.8 L155.7 398.7 L157.0 398.7 L158.4 398.7 L159.7 398.7 L161.1 398.7 L162.4 398.7 L163.7 398.7 L165.1 398.7 L166.4 398.7 L167.8 398.6 L169.1 398.6 L170.4 398.6 L171.8 398.6 L173.1 398.6 L174.5 398.6 L175.8 398.6 L177.1 398.6 L178.5 398.6 L179.8 398.6 L181.2 398.5 L182.5 398.2 L183.8 397.9 L185.2 397.3 L186.5 396.5 L187.9 395.2 L189.2 393.5 L190.5 391.3 L191.9 388.6 L193.2 385.3 L194.5 381.6 L195.9 377.6 L197.2 373.2 L198.6 368.8 L199.9 364.4 L201.2 364.5 L202.6 365.1 L203.9 365.4 L205.3 365.3 L206.6 365.1 L207.9 364.7 L209.3 364.3 L210.6 364.0 L212.0 363.6 L213.3 363.4 L214.6 363.2 L216.0 363.2 L217.3 363.3 L218.7 363.4 L220.0 363.6 L220.0 398.9 L47.2 398.9Z" fill="#abc6de"/>
<path d="M47.2 399.1H220.0" stroke="#5c5e60" stroke-width="1"/>
<path d="M47.2 364.2 L48.5 365.4 L49.9 366.5 L51.2 367.7 L52.6 368.8 L53.9 369.9 L55.2 371.0 L56.6 372.0 L57.9 373.1 L59.3 374.0 L60.6 374.9 L61.9 375.5 L63.3 375.8 L64.6 375.7 L66.0 375.2 L67.3 374.5 L68.6 373.7 L70.0 372.8 L71.3 372.0 L72.7 371.3 L74.0 370.7 L75.3 370.3 L76.7 370.2 L78.0 370.5 L79.3 371.0 L80.7 371.8 L82.0 372.8 L83.4 373.8 L84.7 374.9 L86.0 376.0 L87.4 377.0 L88.7 377.8 L90.1 378.3 L91.4 378.2 L92.7 377.6 L94.1 376.3 L95.4 374.7 L96.8 372.9 L98.1 370.7 L99.4 368.2 L100.8 365.3 L102.1 361.8 L103.5 358.1 L104.8 354.7 L106.1 351.8 L107.5 349.3 L108.8 347.4 L110.2 346.4 L111.5 346.5 L112.8 347.8 L114.2 349.8 L115.5 352.5 L116.9 355.7 L118.2 359.5 L119.5 363.5 L120.9 367.3 L122.2 370.8 L123.6 374.0 L124.9 376.9 L126.2 379.6 L127.6 382.1 L128.9 384.2 L130.3 386.0 L131.6 387.5 L132.9 388.7 L134.3 389.7 L135.6 390.6 L136.9 391.4 L138.3 392.1 L139.6 392.8 L141.0 393.4 L142.3 393.8 L143.6 394.1 L145.0 394.2 L146.3 394.1 L147.7 393.7 L149.0 393.1 L150.3 392.3 L151.7 391.3 L153.0 390.1 L154.4 388.7 L155.7 387.1 L157.0 385.4 L158.4 383.5 L159.7 381.6 L161.1 379.6 L162.4 377.6 L163.7 375.7 L165.1 373.9 L166.4 372.3 L167.8 370.9 L169.1 369.5 L170.4 368.0 L171.8 366.4 L173.1 364.6 L174.5 362.5 L175.8 360.2 L177.1 357.6 L178.5 354.6 L179.8 351.3 L181.2 348.1 L182.5 345.5 L183.8 343.5 L185.2 342.1 L186.5 341.5 L187.9 342.0 L189.2 343.4 L190.5 345.5 L191.9 348.2 L193.2 351.5 L194.5 354.9 L195.9 357.8 L197.2 360.2 L198.6 362.1 L199.9 363.5 L201.2 364.5 L202.6 365.1 L203.9 365.4 L205.3 365.3 L206.6 365.1 L207.9 364.7 L209.3 364.3 L210.6 364.0 L212.0 363.6 L213.3 363.4 L214.6 363.2 L216.0 363.2 L217.3 363.3 L218.7 363.4 L220.0 363.6" fill="none" stroke="#45a5da" stroke-width="1.0"/>
<path d="M47.2 326.2 L48.5 324.7 L49.9 323.8 L51.2 323.9 L52.6 325.2 L53.9 327.3 L55.2 330.1 L56.6 333.6 L57.9 337.5 L59.3 341.1 L60.6 344.0 L61.9 346.5 L63.3 348.2 L64.6 349.2 L66.0 349.1 L67.3 348.2 L68.6 346.6 L70.0 344.7 L71.3 342.7 L72.7 340.8 L74.0 338.8 L75.3 336.6 L76.7 334.3 L78.0 331.7 L79.3 328.7 L80.7 325.3 L82.0 321.6 L83.4 318.0 L84.7 314.7 L86.0 311.7 L87.4 309.3 L88.7 307.8 L90.1 307.6 L91.4 308.7 L92.7 311.2 L94.1 315.1 L95.4 321.3 L96.8 329.1 L98.1 338.0 L99.4 347.9 L100.8 357.9 L102.1 366.5 L103.5 373.4 L104.8 379.2 L106.1 383.8 L107.5 387.8 L108.8 391.0 L110.2 393.4 L111.5 395.1 L112.8 396.3 L114.2 397.0 L115.5 397.5 L116.9 397.8 L118.2 398.1 L119.5 398.3 L120.9 398.4 L122.2 398.5 L123.6 398.6 L124.9 398.6 L126.2 398.7 L127.6 398.7 L128.9 398.7 L130.3 398.8 L131.6 398.8 L132.9 398.8 L134.3 398.8 L135.6 398.8 L136.9 398.8 L138.3 398.8 L139.6 398.8 L141.0 398.8 L142.3 398.8 L143.6 398.8 L145.0 398.8 L146.3 398.8 L147.7 398.8 L149.0 398.8 L150.3 398.8 L151.7 398.8 L153.0 398.8 L154.4 398.8 L155.7 398.7 L157.0 398.7 L158.4 398.7 L159.7 398.7 L161.1 398.7 L162.4 398.7 L163.7 398.7 L165.1 398.7 L166.4 398.7 L167.8 398.6 L169.1 398.6 L170.4 398.6 L171.8 398.6 L173.1 398.6 L174.5 398.6 L175.8 398.6 L177.1 398.6 L178.5 398.6 L179.8 398.6 L181.2 398.5 L182.5 398.2 L183.8 397.9 L185.2 397.3 L186.5 396.5 L187.9 395.2 L189.2 393.5 L190.5 391.3 L191.9 388.6 L193.2 385.3 L194.5 381.6 L195.9 377.6 L197.2 373.2 L198.6 368.8 L199.9 364.4 L201.2 360.2 L202.6 356.2 L203.9 352.8 L205.3 349.9 L206.6 347.3 L207.9 344.8 L209.3 342.3 L210.6 339.9 L212.0 337.5 L213.3 335.2 L214.6 333.0 L216.0 331.1 L217.3 329.2 L218.7 327.5 L220.0 325.8" fill="none" stroke="#454545" stroke-width="1.0"/>
<rect x="40.4" y="288.9" width="186.3" height="114.3" fill="none" stroke="#7a7a7a" stroke-width="1"/>
<path d="M37.8 398.8H40.4M37.8 363.3H40.4M37.8 328.2H40.4M37.8 293.0H40.4M47.2 403.2v2.4M90.4 403.2v2.4M133.6 403.2v2.4M176.8 403.2v2.4M220.0 403.2v2.4" stroke="#6a6a6a" stroke-width="1" fill="none"/>
<path d="M47.2 402.6h5.9M53.4 402.6h13.8M67.7 402.6h4.3M72.6 402.6h11.7M84.9 402.6h8.8M93.9 402.6h8.9M103.2 402.6h9.6M113.2 402.6h7.1M120.7 402.6h9.6M131.0 402.6h12.5M143.8 402.6h13.7M157.8 402.6h8.5M166.7 402.6h10.1M177.5 402.6h8.0M185.9 402.6h12.6M199.0 402.6h7.9M207.1 402.6h7.7M215.4 402.6h3.7M219.4 402.6h0.6" stroke="#2b95d2" stroke-width="1.6" fill="none"/>
<text transform="translate(44.7 303.4) scale(1.07 1)" font-size="10.9" font-weight="bold" fill="#1e1e1e" stroke="none">(g)</text>
<text transform="translate(165.8 300.6) scale(1.09 1)" font-size="11.3" fill="#2a2a2a"><tspan font-family="'Liberation Serif', serif" font-size="10.8">Δ</tspan><tspan x="6.97" dy="2.6" font-size="7.2">1</tspan><tspan x="14.84" dy="-2.6" text-anchor="middle" font-size="10.4"> =</tspan><tspan x="44.50" text-anchor="end"> 0.47</tspan></text>
<text transform="translate(223.8 314.3) scale(1.105 1)" font-size="11.3" text-anchor="end" fill="#2a2a2a">(0.38 - 0.57)</text>
</g>
<g>
<path d="M253.0 341.1 L254.3 343.0 L255.7 344.8 L257.0 346.5 L258.4 348.1 L259.7 349.4 L261.0 350.5 L262.4 351.4 L263.7 352.2 L265.1 352.8 L266.4 353.3 L267.7 353.6 L269.1 353.8 L270.4 353.7 L271.8 353.5 L273.1 353.0 L274.4 352.3 L275.8 351.4 L277.1 350.4 L278.5 349.3 L279.8 348.2 L281.1 347.1 L282.5 346.1 L283.8 345.4 L285.1 345.4 L286.5 346.0 L287.8 347.3 L289.2 348.9 L290.5 350.7 L291.8 352.4 L293.2 354.1 L294.5 355.9 L295.9 357.7 L297.2 359.5 L298.5 361.4 L299.9 363.1 L301.2 364.9 L302.6 366.6 L303.9 368.3 L305.2 370.0 L306.6 371.8 L307.9 373.7 L309.3 375.6 L310.6 380.3 L311.9 384.9 L313.3 388.9 L314.6 392.1 L316.0 394.5 L317.3 396.2 L318.6 397.4 L320.0 398.1 L321.3 398.6 L322.7 398.9 L324.0 399.2 L325.3 399.4 L326.7 399.5 L328.0 399.6 L329.4 399.7 L330.7 399.7 L332.0 399.9 L333.4 400.0 L334.7 400.0 L336.1 400.0 L337.4 400.0 L338.7 400.0 L340.1 400.0 L341.4 400.0 L342.7 400.0 L344.1 400.0 L345.4 400.0 L346.8 400.0 L348.1 400.0 L349.4 400.0 L350.8 400.0 L352.1 400.0 L353.5 400.0 L354.8 400.0 L356.1 400.0 L357.5 400.1 L358.8 400.1 L360.2 400.1 L361.5 400.1 L362.8 400.1 L364.2 400.1 L365.5 400.0 L366.9 400.0 L368.2 399.9 L369.5 399.9 L370.9 399.8 L372.2 399.8 L373.6 399.7 L374.9 399.7 L376.2 399.7 L377.6 399.7 L378.9 399.7 L380.3 399.7 L381.6 399.7 L382.9 399.7 L384.3 399.7 L385.6 399.7 L387.0 399.6 L388.3 399.3 L389.6 399.0 L391.0 398.4 L392.3 397.6 L393.7 396.3 L395.0 394.6 L396.3 392.4 L397.7 389.7 L399.0 386.4 L400.3 382.7 L401.7 378.7 L403.0 374.3 L404.4 369.9 L405.7 365.5 L407.0 361.3 L408.4 357.3 L409.7 353.9 L411.1 351.0 L412.4 348.4 L413.7 345.9 L415.1 343.4 L416.4 341.0 L417.8 338.6 L419.1 336.3 L420.4 334.1 L421.8 332.8 L423.1 335.6 L424.5 338.4 L425.8 341.1 L425.8 400.0 L253.0 400.0Z" fill="#f1f5f9"/>
<path d="M253.0 400.2H425.8" stroke="#5c5e60" stroke-width="1"/>
<path d="M253.0 341.1 L254.3 343.0 L255.7 344.8 L257.0 346.5 L258.4 348.1 L259.7 349.4 L261.0 350.5 L262.4 351.4 L263.7 352.2 L265.1 352.8 L266.4 353.3 L267.7 353.6 L269.1 353.8 L270.4 353.7 L271.8 353.5 L273.1 353.0 L274.4 352.3 L275.8 351.4 L277.1 350.4 L278.5 349.3 L279.8 348.2 L281.1 347.1 L282.5 346.1 L283.8 345.4 L285.1 345.4 L286.5 346.0 L287.8 347.3 L289.2 348.9 L290.5 350.7 L291.8 352.4 L293.2 354.1 L294.5 355.9 L295.9 357.7 L297.2 359.5 L298.5 361.4 L299.9 363.1 L301.2 364.9 L302.6 366.6 L303.9 368.3 L305.2 370.0 L306.6 371.8 L307.9 373.7 L309.3 375.6 L310.6 377.7 L311.9 379.9 L313.3 382.1 L314.6 384.4 L316.0 386.5 L317.3 388.6 L318.6 390.6 L320.0 392.5 L321.3 394.1 L322.7 395.5 L324.0 396.7 L325.3 397.7 L326.7 398.5 L328.0 399.0 L329.4 399.4 L330.7 399.7 L332.0 399.9 L333.4 400.0 L334.7 400.0 L336.1 400.0 L337.4 400.0 L338.7 400.0 L340.1 400.0 L341.4 400.0 L342.7 400.0 L344.1 400.0 L345.4 400.0 L346.8 400.0 L348.1 400.0 L349.4 400.0 L350.8 400.0 L352.1 400.0 L353.5 400.0 L354.8 400.0 L356.1 400.0 L357.5 400.1 L358.8 400.1 L360.2 400.1 L361.5 400.1 L362.8 400.1 L364.2 400.1 L365.5 400.0 L366.9 400.0 L368.2 399.9 L369.5 399.9 L370.9 399.8 L372.2 399.7 L373.6 399.6 L374.9 399.3 L376.2 399.0 L377.6 398.5 L378.9 398.0 L380.3 397.4 L381.6 396.5 L382.9 395.3 L384.3 393.9 L385.6 392.2 L387.0 390.2 L388.3 387.6 L389.6 384.5 L391.0 381.0 L392.3 376.7 L393.7 371.7 L395.0 366.0 L396.3 359.6 L397.7 352.7 L399.0 345.9 L400.3 339.7 L401.7 334.1 L403.0 329.1 L404.4 324.7 L405.7 320.8 L407.0 317.8 L408.4 315.8 L409.7 314.6 L411.1 314.3 L412.4 314.9 L413.7 316.2 L415.1 318.2 L416.4 320.6 L417.8 323.5 L419.1 326.7 L420.4 329.9 L421.8 332.8 L423.1 335.6 L424.5 338.4 L425.8 341.1" fill="none" stroke="#3fb8c5" stroke-width="1.0"/>
<path d="M253.0 327.3 L254.3 325.8 L255.7 324.9 L257.0 325.0 L258.4 326.3 L259.7 328.4 L261.0 331.2 L262.4 334.7 L263.7 338.6 L265.1 342.2 L266.4 345.1 L267.7 347.6 L269.1 349.3 L270.4 350.3 L271.8 350.2 L273.1 349.3 L274.4 347.7 L275.8 345.8 L277.1 343.8 L278.5 341.9 L279.8 339.9 L281.1 337.7 L282.5 335.4 L283.8 332.8 L285.1 329.8 L286.5 326.4 L287.8 322.7 L289.2 319.1 L290.5 315.8 L291.8 312.8 L293.2 310.4 L294.5 308.9 L295.9 308.7 L297.2 309.8 L298.5 312.3 L299.9 316.2 L301.2 322.4 L302.6 330.2 L303.9 339.1 L305.2 349.0 L306.6 359.0 L307.9 367.6 L309.3 374.5 L310.6 380.3 L311.9 384.9 L313.3 388.9 L314.6 392.1 L316.0 394.5 L317.3 396.2 L318.6 397.4 L320.0 398.1 L321.3 398.6 L322.7 398.9 L324.0 399.2 L325.3 399.4 L326.7 399.5 L328.0 399.6 L329.4 399.7 L330.7 399.7 L332.0 399.8 L333.4 399.8 L334.7 399.8 L336.1 399.9 L337.4 399.9 L338.7 399.9 L340.1 399.9 L341.4 399.9 L342.7 399.9 L344.1 399.9 L345.4 399.9 L346.8 399.9 L348.1 399.9 L349.4 399.9 L350.8 399.9 L352.1 399.9 L353.5 399.9 L354.8 399.9 L356.1 399.9 L357.5 399.9 L358.8 399.9 L360.2 399.9 L361.5 399.8 L362.8 399.8 L364.2 399.8 L365.5 399.8 L366.9 399.8 L368.2 399.8 L369.5 399.8 L370.9 399.8 L372.2 399.8 L373.6 399.7 L374.9 399.7 L376.2 399.7 L377.6 399.7 L378.9 399.7 L380.3 399.7 L381.6 399.7 L382.9 399.7 L384.3 399.7 L385.6 399.7 L387.0 399.6 L388.3 399.3 L389.6 399.0 L391.0 398.4 L392.3 397.6 L393.7 396.3 L395.0 394.6 L396.3 392.4 L397.7 389.7 L399.0 386.4 L400.3 382.7 L401.7 378.7 L403.0 374.3 L404.4 369.9 L405.7 365.5 L407.0 361.3 L408.4 357.3 L409.7 353.9 L411.1 351.0 L412.4 348.4 L413.7 345.9 L415.1 343.4 L416.4 341.0 L417.8 338.6 L419.1 336.3 L420.4 334.1 L421.8 332.2 L423.1 330.3 L424.5 328.6 L425.8 326.9" fill="none" stroke="#454545" stroke-width="1.0"/>
<rect x="246.2" y="290.0" width="185.9" height="114.3" fill="none" stroke="#7a7a7a" stroke-width="1"/>
<path d="M243.6 399.9H246.2M243.6 364.4H246.2M243.6 329.3H246.2M243.6 294.1H246.2M253.0 404.3v2.4M296.2 404.3v2.4M339.4 404.3v2.4M382.6 404.3v2.4M425.8 404.3v2.4" stroke="#6a6a6a" stroke-width="1" fill="none"/>
<path d="M256.6 403.6h3.6M261.0 403.6h1.9M263.8 403.6h2.1M267.3 403.6h2.8M270.8 403.6h2.1M273.4 403.6h1.2M275.4 403.6h1.1M278.0 403.6h2.6M286.5 403.6h3.0M291.0 403.6h2.1M294.6 403.6h1.9M297.8 403.6h2.8M301.0 403.6h2.1M304.5 403.6h1.6M306.9 403.6h2.5M310.6 403.6h3.0M314.1 403.6h3.9M318.5 403.6h1.4" stroke="#2fb3be" stroke-width="1.2" fill="none"/>
<path d="M394.1 403.6h1.2M400.0 403.6h2.0M403.0 403.6h3.7M407.6 403.6h1.3M409.3 403.6h3.8M414.2 403.6h1.3M416.4 403.6h3.6M420.7 403.6h3.9M425.7 403.6h0.1" stroke="#2fb3be" stroke-width="1.2" fill="none"/>
<text transform="translate(252.0 304.2) scale(1.07 1)" font-size="10.9" font-weight="bold" fill="#1e1e1e" stroke="none">(h)</text>
<text transform="translate(375.7 300.8) scale(1.09 1)" font-size="11.3" fill="#2a2a2a"><tspan font-family="'Liberation Serif', serif" font-size="10.8">Δ</tspan><tspan x="6.97" dy="2.6" font-size="7.2">1</tspan><tspan x="14.66" dy="-2.6" text-anchor="middle" font-size="10.4"> =</tspan><tspan x="44.31" text-anchor="end"> 0.76</tspan></text>
<text transform="translate(430.2 314.1) scale(1.105 1)" font-size="11.3" text-anchor="end" fill="#2a2a2a">(0.59 - 0.9)</text>
</g>
<g>
<path d="M460.3 400.0 L461.6 400.0 L463.0 400.0 L464.3 400.0 L465.7 400.0 L467.0 400.0 L468.3 400.0 L469.7 400.0 L471.0 400.0 L472.4 400.0 L473.7 400.0 L475.0 400.0 L476.4 400.0 L477.7 400.0 L479.1 400.0 L480.4 400.0 L481.7 400.0 L483.1 400.0 L484.4 400.0 L485.8 400.0 L487.1 400.0 L488.4 400.0 L489.8 400.0 L491.1 400.0 L492.4 400.0 L493.8 400.0 L495.1 400.0 L496.5 400.0 L497.8 399.9 L499.1 399.9 L500.5 399.9 L501.8 399.8 L503.2 399.7 L504.5 399.4 L505.8 399.1 L507.2 398.6 L508.5 397.9 L509.9 396.8 L511.2 395.4 L512.5 393.6 L513.9 391.3 L515.2 388.6 L516.6 385.6 L517.9 382.4 L519.2 384.9 L520.6 388.9 L521.9 392.1 L523.3 394.5 L524.6 396.2 L525.9 397.4 L527.3 398.1 L528.6 398.6 L530.0 398.9 L531.3 399.2 L532.6 399.4 L534.0 399.5 L535.3 399.6 L536.7 399.7 L538.0 399.7 L539.3 399.8 L540.7 399.8 L542.0 399.8 L543.4 399.9 L544.7 399.9 L546.0 399.9 L547.4 399.9 L548.7 399.9 L550.0 399.9 L551.4 399.9 L552.7 399.9 L554.1 399.9 L555.4 399.9 L556.7 399.9 L558.1 399.9 L559.4 399.9 L560.8 399.9 L562.1 399.9 L563.4 399.9 L564.8 399.9 L566.1 399.9 L567.5 399.9 L568.8 399.8 L570.1 399.8 L571.5 399.8 L572.8 399.8 L574.2 399.8 L575.5 399.8 L576.8 399.8 L578.2 399.8 L579.5 399.8 L580.9 399.7 L582.2 399.7 L583.5 399.7 L584.9 399.7 L586.2 399.7 L587.6 399.7 L588.9 399.7 L590.2 399.7 L591.6 399.7 L592.9 399.7 L594.3 399.6 L595.6 399.3 L596.9 399.0 L598.3 398.4 L599.6 397.6 L601.0 396.3 L602.3 394.9 L603.6 395.6 L605.0 396.2 L606.3 396.9 L607.6 397.5 L609.0 398.1 L610.3 398.6 L611.7 399.0 L613.0 399.3 L614.3 399.5 L615.7 399.7 L617.0 399.8 L618.4 399.9 L619.7 399.9 L621.0 399.9 L622.4 399.9 L623.7 400.0 L625.1 400.0 L626.4 400.0 L627.7 400.0 L629.1 400.0 L630.4 400.0 L631.8 400.0 L633.1 400.0 L633.1 400.0 L460.3 400.0Z" fill="#f0eed5"/>
<path d="M460.3 400.2H633.1" stroke="#5c5e60" stroke-width="1"/>
<path d="M460.3 400.0 L461.6 400.0 L463.0 400.0 L464.3 400.0 L465.7 400.0 L467.0 400.0 L468.3 400.0 L469.7 400.0 L471.0 400.0 L472.4 400.0 L473.7 400.0 L475.0 400.0 L476.4 400.0 L477.7 400.0 L479.1 400.0 L480.4 400.0 L481.7 400.0 L483.1 400.0 L484.4 400.0 L485.8 400.0 L487.1 400.0 L488.4 400.0 L489.8 400.0 L491.1 400.0 L492.4 400.0 L493.8 400.0 L495.1 400.0 L496.5 400.0 L497.8 399.9 L499.1 399.9 L500.5 399.9 L501.8 399.8 L503.2 399.7 L504.5 399.4 L505.8 399.1 L507.2 398.6 L508.5 397.9 L509.9 396.8 L511.2 395.4 L512.5 393.6 L513.9 391.3 L515.2 388.6 L516.6 385.6 L517.9 382.4 L519.2 379.0 L520.6 375.3 L521.9 371.3 L523.3 367.1 L524.6 362.6 L525.9 357.9 L527.3 353.2 L528.6 348.7 L530.0 344.3 L531.3 340.1 L532.6 336.3 L534.0 332.9 L535.3 329.8 L536.7 327.0 L538.0 324.7 L539.3 322.8 L540.7 321.4 L542.0 320.3 L543.4 319.6 L544.7 319.3 L546.0 319.2 L547.4 319.1 L548.7 319.1 L550.0 318.9 L551.4 318.4 L552.7 317.6 L554.1 316.3 L555.4 314.1 L556.7 311.5 L558.1 308.6 L559.4 305.4 L560.8 302.2 L562.1 299.6 L563.4 297.5 L564.8 296.0 L566.1 295.1 L567.5 295.1 L568.8 296.1 L570.1 298.0 L571.5 301.3 L572.8 306.3 L574.2 312.3 L575.5 319.2 L576.8 326.7 L578.2 334.3 L579.5 341.5 L580.9 348.3 L582.2 354.7 L583.5 360.8 L584.9 366.7 L586.2 372.1 L587.6 376.7 L588.9 380.7 L590.2 384.0 L591.6 386.6 L592.9 388.5 L594.3 390.0 L595.6 391.2 L596.9 392.1 L598.3 392.9 L599.6 393.7 L601.0 394.3 L602.3 394.9 L603.6 395.6 L605.0 396.2 L606.3 396.9 L607.6 397.5 L609.0 398.1 L610.3 398.6 L611.7 399.0 L613.0 399.3 L614.3 399.5 L615.7 399.7 L617.0 399.8 L618.4 399.9 L619.7 399.9 L621.0 399.9 L622.4 399.9 L623.7 400.0 L625.1 400.0 L626.4 400.0 L627.7 400.0 L629.1 400.0 L630.4 400.0 L631.8 400.0 L633.1 400.0" fill="none" stroke="#ebbf6a" stroke-width="1.0"/>
<path d="M460.3 327.3 L461.6 325.8 L463.0 324.9 L464.3 325.0 L465.7 326.3 L467.0 328.4 L468.3 331.2 L469.7 334.7 L471.0 338.6 L472.4 342.2 L473.7 345.1 L475.0 347.6 L476.4 349.3 L477.7 350.3 L479.1 350.2 L480.4 349.3 L481.7 347.7 L483.1 345.8 L484.4 343.8 L485.8 341.9 L487.1 339.9 L488.4 337.7 L489.8 335.4 L491.1 332.8 L492.4 329.8 L493.8 326.4 L495.1 322.7 L496.5 319.1 L497.8 315.8 L499.1 312.8 L500.5 310.4 L501.8 308.9 L503.2 308.7 L504.5 309.8 L505.8 312.3 L507.2 316.2 L508.5 322.4 L509.9 330.2 L511.2 339.1 L512.5 349.0 L513.9 359.0 L515.2 367.6 L516.6 374.5 L517.9 380.3 L519.2 384.9 L520.6 388.9 L521.9 392.1 L523.3 394.5 L524.6 396.2 L525.9 397.4 L527.3 398.1 L528.6 398.6 L530.0 398.9 L531.3 399.2 L532.6 399.4 L534.0 399.5 L535.3 399.6 L536.7 399.7 L538.0 399.7 L539.3 399.8 L540.7 399.8 L542.0 399.8 L543.4 399.9 L544.7 399.9 L546.0 399.9 L547.4 399.9 L548.7 399.9 L550.0 399.9 L551.4 399.9 L552.7 399.9 L554.1 399.9 L555.4 399.9 L556.7 399.9 L558.1 399.9 L559.4 399.9 L560.8 399.9 L562.1 399.9 L563.4 399.9 L564.8 399.9 L566.1 399.9 L567.5 399.9 L568.8 399.8 L570.1 399.8 L571.5 399.8 L572.8 399.8 L574.2 399.8 L575.5 399.8 L576.8 399.8 L578.2 399.8 L579.5 399.8 L580.9 399.7 L582.2 399.7 L583.5 399.7 L584.9 399.7 L586.2 399.7 L587.6 399.7 L588.9 399.7 L590.2 399.7 L591.6 399.7 L592.9 399.7 L594.3 399.6 L595.6 399.3 L596.9 399.0 L598.3 398.4 L599.6 397.6 L601.0 396.3 L602.3 394.6 L603.6 392.4 L605.0 389.7 L606.3 386.4 L607.6 382.7 L609.0 378.7 L610.3 374.3 L611.7 369.9 L613.0 365.5 L614.3 361.3 L615.7 357.3 L617.0 353.9 L618.4 351.0 L619.7 348.4 L621.0 345.9 L622.4 343.4 L623.7 341.0 L625.1 338.6 L626.4 336.3 L627.7 334.1 L629.1 332.2 L630.4 330.3 L631.8 328.6 L633.1 326.9" fill="none" stroke="#454545" stroke-width="1.0"/>
<rect x="453.5" y="290.0" width="186.2" height="114.3" fill="none" stroke="#7a7a7a" stroke-width="1"/>
<path d="M450.9 399.9H453.5M450.9 364.4H453.5M450.9 329.3H453.5M450.9 294.1H453.5M460.3 404.3v2.4M503.5 404.3v2.4M546.7 404.3v2.4M589.9 404.3v2.4M633.1 404.3v2.4" stroke="#6a6a6a" stroke-width="1" fill="none"/>
<path d="M535.9 404.0h1.3M545.7 404.0h1.1M553.3 404.0h2.8M557.0 404.0h1.4M563.1 404.0h1.1M565.3 404.0h1.4M567.5 404.0h2.4M570.6 404.0h1.4M573.4 404.0h1.5M575.7 404.0h2.3M578.8 404.0h2.5M582.6 404.0h2.2M588.9 404.0h2.0M591.8 404.0h2.8M599.0 404.0h3.0M602.8 404.0h2.4M606.8 404.0h2.2M610.3 404.0h1.2" stroke="#efc77a" stroke-width="1.0" fill="none"/>
<text transform="translate(460.8 301.7) scale(1.07 1)" font-size="10.9" font-weight="bold" fill="#1e1e1e" stroke="none">(i)</text>
<text transform="translate(587.9 303.3) scale(1.09 1)" font-size="11.3" fill="#2a2a2a"><tspan font-family="'Liberation Serif', serif" font-size="10.8">Δ</tspan><tspan x="6.97" dy="2.6" font-size="7.2">1</tspan><tspan x="13.28" dy="-2.6" text-anchor="middle" font-size="10.4"> =</tspan><tspan x="42.94" text-anchor="end"> 0.03</tspan></text>
<text transform="translate(637.7 316.3) scale(1.105 1)" font-size="11.3" text-anchor="end" fill="#2a2a2a">(0 - 0.11)</text>
</g>
<g>
<path d="M46.3 519.9 L47.6 519.3 L49.0 518.8 L50.3 518.3 L51.7 517.8 L53.0 517.4 L54.3 517.1 L55.7 516.7 L57.0 516.5 L58.4 516.4 L59.7 516.4 L61.0 516.6 L62.4 516.9 L63.7 517.3 L65.1 517.7 L66.4 518.2 L67.7 518.6 L69.1 519.1 L70.4 519.5 L71.8 520.0 L73.1 520.4 L74.4 520.8 L75.8 521.1 L77.1 521.4 L78.4 521.7 L79.8 521.9 L81.1 522.0 L82.5 522.0 L83.8 521.9 L85.1 521.7 L86.5 521.4 L87.8 521.0 L89.2 520.6 L90.5 520.0 L91.8 519.3 L93.2 518.5 L94.5 517.5 L95.9 516.3 L97.2 515.0 L98.5 513.3 L99.9 511.5 L101.2 509.4 L102.6 507.2 L103.9 504.9 L105.2 502.4 L106.6 499.7 L107.9 496.9 L109.3 494.1 L110.6 491.1 L111.9 488.1 L113.3 485.0 L114.6 482.1 L116.0 480.2 L117.3 484.0 L118.6 488.0 L120.0 491.8 L121.3 495.3 L122.7 498.5 L124.0 501.4 L125.3 504.1 L126.7 506.6 L128.0 508.7 L129.4 510.5 L130.7 512.0 L132.0 513.2 L133.4 514.2 L134.7 515.1 L136.0 515.9 L137.4 516.6 L138.7 517.3 L140.1 517.9 L141.4 518.3 L142.7 518.6 L144.1 518.7 L145.4 518.6 L146.8 518.2 L148.1 517.6 L149.4 516.8 L150.8 515.8 L152.1 514.6 L153.5 513.2 L154.8 511.6 L156.1 509.9 L157.5 508.0 L158.8 506.1 L160.2 504.1 L161.5 502.1 L162.8 500.2 L164.2 498.4 L165.5 496.8 L166.9 495.4 L168.2 494.0 L169.5 492.5 L170.9 490.9 L172.2 489.1 L173.6 487.0 L174.9 484.7 L176.2 482.1 L177.6 479.5 L178.9 482.4 L180.3 485.4 L181.6 488.4 L182.9 491.4 L184.3 494.4 L185.6 497.3 L187.0 500.2 L188.3 502.9 L189.6 505.6 L191.0 508.1 L192.3 510.5 L193.6 512.6 L195.0 514.4 L196.3 516.0 L197.7 517.5 L199.0 518.7 L200.3 519.6 L201.7 520.4 L203.0 521.0 L204.4 521.5 L205.7 521.8 L207.0 522.0 L208.4 522.0 L209.7 522.0 L211.1 521.8 L212.4 521.6 L213.7 521.3 L215.1 520.9 L216.4 520.5 L217.8 519.9 L219.1 519.3 L219.1 523.4 L46.3 523.4Z" fill="#abc6de"/>
<path d="M46.3 523.6H219.1" stroke="#5c5e60" stroke-width="1"/>
<path d="M46.3 488.7 L47.6 489.9 L49.0 491.0 L50.3 492.2 L51.7 493.3 L53.0 494.4 L54.3 495.5 L55.7 496.5 L57.0 497.6 L58.4 498.5 L59.7 499.4 L61.0 500.0 L62.4 500.3 L63.7 500.2 L65.1 499.7 L66.4 499.0 L67.7 498.2 L69.1 497.3 L70.4 496.5 L71.8 495.8 L73.1 495.2 L74.4 494.8 L75.8 494.7 L77.1 495.0 L78.4 495.5 L79.8 496.3 L81.1 497.3 L82.5 498.3 L83.8 499.4 L85.1 500.5 L86.5 501.5 L87.8 502.3 L89.2 502.8 L90.5 502.7 L91.8 502.1 L93.2 500.8 L94.5 499.2 L95.9 497.4 L97.2 495.2 L98.5 492.7 L99.9 489.8 L101.2 486.3 L102.6 482.6 L103.9 479.2 L105.2 476.3 L106.6 473.8 L107.9 471.9 L109.3 470.9 L110.6 471.0 L111.9 472.3 L113.3 474.3 L114.6 477.0 L116.0 480.2 L117.3 484.0 L118.6 488.0 L120.0 491.8 L121.3 495.3 L122.7 498.5 L124.0 501.4 L125.3 504.1 L126.7 506.6 L128.0 508.7 L129.4 510.5 L130.7 512.0 L132.0 513.2 L133.4 514.2 L134.7 515.1 L136.0 515.9 L137.4 516.6 L138.7 517.3 L140.1 517.9 L141.4 518.3 L142.7 518.6 L144.1 518.7 L145.4 518.6 L146.8 518.2 L148.1 517.6 L149.4 516.8 L150.8 515.8 L152.1 514.6 L153.5 513.2 L154.8 511.6 L156.1 509.9 L157.5 508.0 L158.8 506.1 L160.2 504.1 L161.5 502.1 L162.8 500.2 L164.2 498.4 L165.5 496.8 L166.9 495.4 L168.2 494.0 L169.5 492.5 L170.9 490.9 L172.2 489.1 L173.6 487.0 L174.9 484.7 L176.2 482.1 L177.6 479.1 L178.9 475.8 L180.3 472.6 L181.6 470.0 L182.9 468.0 L184.3 466.6 L185.6 466.0 L187.0 466.5 L188.3 467.9 L189.6 470.0 L191.0 472.7 L192.3 476.0 L193.6 479.4 L195.0 482.3 L196.3 484.7 L197.7 486.6 L199.0 488.0 L200.3 489.0 L201.7 489.6 L203.0 489.9 L204.4 489.8 L205.7 489.6 L207.0 489.2 L208.4 488.8 L209.7 488.5 L211.1 488.1 L212.4 487.9 L213.7 487.7 L215.1 487.7 L216.4 487.8 L217.8 487.9 L219.1 488.1" fill="none" stroke="#45a5da" stroke-width="1.0"/>
<path d="M46.3 519.9 L47.6 519.3 L49.0 518.8 L50.3 518.3 L51.7 517.8 L53.0 517.4 L54.3 517.1 L55.7 516.7 L57.0 516.5 L58.4 516.4 L59.7 516.4 L61.0 516.6 L62.4 516.9 L63.7 517.3 L65.1 517.7 L66.4 518.2 L67.7 518.6 L69.1 519.1 L70.4 519.5 L71.8 520.0 L73.1 520.4 L74.4 520.8 L75.8 521.1 L77.1 521.4 L78.4 521.7 L79.8 521.9 L81.1 522.0 L82.5 522.0 L83.8 521.9 L85.1 521.7 L86.5 521.4 L87.8 521.0 L89.2 520.6 L90.5 520.0 L91.8 519.3 L93.2 518.5 L94.5 517.5 L95.9 516.3 L97.2 515.0 L98.5 513.3 L99.9 511.5 L101.2 509.4 L102.6 507.2 L103.9 504.9 L105.2 502.4 L106.6 499.7 L107.9 496.9 L109.3 494.1 L110.6 491.1 L111.9 488.1 L113.3 485.0 L114.6 482.1 L116.0 479.2 L117.3 476.5 L118.6 474.0 L120.0 471.7 L121.3 469.9 L122.7 468.6 L124.0 467.7 L125.3 467.1 L126.7 466.8 L128.0 466.8 L129.4 466.9 L130.7 467.0 L132.0 466.9 L133.4 466.5 L134.7 465.6 L136.0 464.3 L137.4 462.8 L138.7 461.2 L140.1 459.4 L141.4 457.6 L142.7 455.6 L144.1 453.5 L145.4 451.4 L146.8 449.2 L148.1 447.1 L149.4 445.3 L150.8 443.9 L152.1 442.8 L153.5 442.0 L154.8 441.6 L156.1 441.7 L157.5 442.2 L158.8 443.1 L160.2 444.3 L161.5 445.9 L162.8 448.0 L164.2 450.5 L165.5 453.2 L166.9 456.0 L168.2 458.8 L169.5 461.7 L170.9 464.7 L172.2 467.6 L173.6 470.6 L174.9 473.6 L176.2 476.5 L177.6 479.5 L178.9 482.4 L180.3 485.4 L181.6 488.4 L182.9 491.4 L184.3 494.4 L185.6 497.3 L187.0 500.2 L188.3 502.9 L189.6 505.6 L191.0 508.1 L192.3 510.5 L193.6 512.6 L195.0 514.4 L196.3 516.0 L197.7 517.5 L199.0 518.7 L200.3 519.6 L201.7 520.4 L203.0 521.0 L204.4 521.5 L205.7 521.8 L207.0 522.0 L208.4 522.0 L209.7 522.0 L211.1 521.8 L212.4 521.6 L213.7 521.3 L215.1 520.9 L216.4 520.5 L217.8 519.9 L219.1 519.3" fill="none" stroke="#454545" stroke-width="1.0"/>
<rect x="39.5" y="413.2" width="186.3" height="114.3" fill="none" stroke="#7a7a7a" stroke-width="1"/>
<path d="M36.9 523.3H39.5M36.9 487.8H39.5M36.9 452.7H39.5M36.9 417.5H39.5M46.3 527.5v2.4M89.5 527.5v2.4M132.7 527.5v2.4M175.9 527.5v2.4M219.1 527.5v2.4" stroke="#6a6a6a" stroke-width="1" fill="none"/>
<path d="M46.3 526.9h12.5M59.2 526.9h9.4M69.0 526.9h4.0M73.5 526.9h6.3M80.4 526.9h9.0M90.0 526.9h11.2M101.4 526.9h10.5M112.3 526.9h8.3M120.9 526.9h10.7M131.9 526.9h4.2M136.5 526.9h11.0M147.9 526.9h5.2M153.5 526.9h4.2M158.1 526.9h5.2M163.6 526.9h4.1M168.4 526.9h12.6M181.4 526.9h3.7M185.4 526.9h13.4M199.5 526.9h8.2M208.1 526.9h11.0" stroke="#2b95d2" stroke-width="1.6" fill="none"/>
<text transform="translate(44.7 430.0) scale(1.07 1)" font-size="10.9" font-weight="bold" fill="#1e1e1e" stroke="none">(j)</text>
<text transform="translate(167.0 424.7) scale(1.09 1)" font-size="11.3" fill="#2a2a2a"><tspan font-family="'Liberation Serif', serif" font-size="10.8">Δ</tspan><tspan x="6.97" dy="2.6" font-size="7.2">1</tspan><tspan x="15.21" dy="-2.6" text-anchor="middle" font-size="10.4"> =</tspan><tspan x="44.86" text-anchor="end"> 0.44</tspan></text>
<text transform="translate(224.9 438.1) scale(1.14 1)" font-size="11.3" text-anchor="end" fill="#2a2a2a">(0.33 - 0.55)</text>
</g>
<g>
<path d="M253.5 521.0 L254.8 520.4 L256.2 519.9 L257.5 519.4 L258.9 518.9 L260.2 518.5 L261.5 518.2 L262.9 517.8 L264.2 517.6 L265.6 517.5 L266.9 517.5 L268.2 517.7 L269.6 518.0 L270.9 518.4 L272.3 518.8 L273.6 519.3 L274.9 519.7 L276.3 520.2 L277.6 520.6 L279.0 521.1 L280.3 521.5 L281.6 521.9 L283.0 522.2 L284.3 522.5 L285.6 522.8 L287.0 523.0 L288.3 523.1 L289.7 523.1 L291.0 523.0 L292.3 522.8 L293.7 522.5 L295.0 522.1 L296.4 521.7 L297.7 521.1 L299.0 520.4 L300.4 519.6 L301.7 518.6 L303.1 517.4 L304.4 516.1 L305.7 514.4 L307.1 512.6 L308.4 510.5 L309.8 508.3 L311.1 506.0 L312.4 504.4 L313.8 506.6 L315.1 508.9 L316.5 511.0 L317.8 513.1 L319.1 515.1 L320.5 517.0 L321.8 518.6 L323.2 520.0 L324.5 521.2 L325.8 522.2 L327.2 523.0 L328.5 523.5 L329.9 523.9 L331.2 524.2 L332.5 524.4 L333.9 524.5 L335.2 524.5 L336.6 524.5 L337.9 524.5 L339.2 524.5 L340.6 524.5 L341.9 524.5 L343.2 524.5 L344.6 524.5 L345.9 524.5 L347.3 524.5 L348.6 524.5 L349.9 524.5 L351.3 524.5 L352.6 524.5 L354.0 524.5 L355.3 524.5 L356.6 524.5 L358.0 524.6 L359.3 524.6 L360.7 524.6 L362.0 524.6 L363.3 524.6 L364.7 524.6 L366.0 524.5 L367.4 524.5 L368.7 524.4 L370.0 524.4 L371.4 524.3 L372.7 524.2 L374.1 524.1 L375.4 523.8 L376.7 523.5 L378.1 523.0 L379.4 522.5 L380.8 521.9 L382.1 521.0 L383.4 519.8 L384.8 518.4 L386.1 516.7 L387.5 514.7 L388.8 512.1 L390.1 509.0 L391.5 505.5 L392.8 501.2 L394.2 501.3 L395.5 504.0 L396.8 506.7 L398.2 509.2 L399.5 511.6 L400.8 513.7 L402.2 515.5 L403.5 517.1 L404.9 518.6 L406.2 519.8 L407.5 520.7 L408.9 521.5 L410.2 522.1 L411.6 522.6 L412.9 522.9 L414.2 523.1 L415.6 523.1 L416.9 523.1 L418.3 522.9 L419.6 522.7 L420.9 522.4 L422.3 522.0 L423.6 521.6 L425.0 521.0 L426.3 520.4 L426.3 524.5 L253.5 524.5Z" fill="#f1f5f9"/>
<path d="M253.5 524.7H426.3" stroke="#5c5e60" stroke-width="1"/>
<path d="M253.5 465.6 L254.8 467.5 L256.2 469.3 L257.5 471.0 L258.9 472.6 L260.2 473.9 L261.5 475.0 L262.9 475.9 L264.2 476.7 L265.6 477.3 L266.9 477.8 L268.2 478.1 L269.6 478.3 L270.9 478.2 L272.3 478.0 L273.6 477.5 L274.9 476.8 L276.3 475.9 L277.6 474.9 L279.0 473.8 L280.3 472.7 L281.6 471.6 L283.0 470.6 L284.3 469.9 L285.6 469.9 L287.0 470.5 L288.3 471.8 L289.7 473.4 L291.0 475.2 L292.3 476.9 L293.7 478.6 L295.0 480.4 L296.4 482.2 L297.7 484.0 L299.0 485.9 L300.4 487.6 L301.7 489.4 L303.1 491.1 L304.4 492.8 L305.7 494.5 L307.1 496.3 L308.4 498.2 L309.8 500.1 L311.1 502.2 L312.4 504.4 L313.8 506.6 L315.1 508.9 L316.5 511.0 L317.8 513.1 L319.1 515.1 L320.5 517.0 L321.8 518.6 L323.2 520.0 L324.5 521.2 L325.8 522.2 L327.2 523.0 L328.5 523.5 L329.9 523.9 L331.2 524.2 L332.5 524.4 L333.9 524.5 L335.2 524.5 L336.6 524.5 L337.9 524.5 L339.2 524.5 L340.6 524.5 L341.9 524.5 L343.2 524.5 L344.6 524.5 L345.9 524.5 L347.3 524.5 L348.6 524.5 L349.9 524.5 L351.3 524.5 L352.6 524.5 L354.0 524.5 L355.3 524.5 L356.6 524.5 L358.0 524.6 L359.3 524.6 L360.7 524.6 L362.0 524.6 L363.3 524.6 L364.7 524.6 L366.0 524.5 L367.4 524.5 L368.7 524.4 L370.0 524.4 L371.4 524.3 L372.7 524.2 L374.1 524.1 L375.4 523.8 L376.7 523.5 L378.1 523.0 L379.4 522.5 L380.8 521.9 L382.1 521.0 L383.4 519.8 L384.8 518.4 L386.1 516.7 L387.5 514.7 L388.8 512.1 L390.1 509.0 L391.5 505.5 L392.8 501.2 L394.2 496.2 L395.5 490.5 L396.8 484.1 L398.2 477.2 L399.5 470.4 L400.8 464.2 L402.2 458.6 L403.5 453.6 L404.9 449.2 L406.2 445.3 L407.5 442.3 L408.9 440.3 L410.2 439.1 L411.6 438.8 L412.9 439.4 L414.2 440.7 L415.6 442.7 L416.9 445.1 L418.3 448.0 L419.6 451.2 L420.9 454.4 L422.3 457.3 L423.6 460.1 L425.0 462.9 L426.3 465.6" fill="none" stroke="#3fb8c5" stroke-width="1.0"/>
<path d="M253.5 521.0 L254.8 520.4 L256.2 519.9 L257.5 519.4 L258.9 518.9 L260.2 518.5 L261.5 518.2 L262.9 517.8 L264.2 517.6 L265.6 517.5 L266.9 517.5 L268.2 517.7 L269.6 518.0 L270.9 518.4 L272.3 518.8 L273.6 519.3 L274.9 519.7 L276.3 520.2 L277.6 520.6 L279.0 521.1 L280.3 521.5 L281.6 521.9 L283.0 522.2 L284.3 522.5 L285.6 522.8 L287.0 523.0 L288.3 523.1 L289.7 523.1 L291.0 523.0 L292.3 522.8 L293.7 522.5 L295.0 522.1 L296.4 521.7 L297.7 521.1 L299.0 520.4 L300.4 519.6 L301.7 518.6 L303.1 517.4 L304.4 516.1 L305.7 514.4 L307.1 512.6 L308.4 510.5 L309.8 508.3 L311.1 506.0 L312.4 503.5 L313.8 500.8 L315.1 498.0 L316.5 495.2 L317.8 492.2 L319.1 489.2 L320.5 486.1 L321.8 483.2 L323.2 480.3 L324.5 477.6 L325.8 475.1 L327.2 472.8 L328.5 471.0 L329.9 469.7 L331.2 468.8 L332.5 468.2 L333.9 467.9 L335.2 467.9 L336.6 468.0 L337.9 468.1 L339.2 468.0 L340.6 467.6 L341.9 466.7 L343.2 465.4 L344.6 463.9 L345.9 462.3 L347.3 460.5 L348.6 458.7 L349.9 456.7 L351.3 454.6 L352.6 452.5 L354.0 450.3 L355.3 448.2 L356.6 446.4 L358.0 445.0 L359.3 443.9 L360.7 443.1 L362.0 442.7 L363.3 442.8 L364.7 443.3 L366.0 444.2 L367.4 445.4 L368.7 447.0 L370.0 449.1 L371.4 451.6 L372.7 454.3 L374.1 457.1 L375.4 459.9 L376.7 462.8 L378.1 465.8 L379.4 468.7 L380.8 471.7 L382.1 474.7 L383.4 477.6 L384.8 480.6 L386.1 483.5 L387.5 486.5 L388.8 489.5 L390.1 492.5 L391.5 495.5 L392.8 498.4 L394.2 501.3 L395.5 504.0 L396.8 506.7 L398.2 509.2 L399.5 511.6 L400.8 513.7 L402.2 515.5 L403.5 517.1 L404.9 518.6 L406.2 519.8 L407.5 520.7 L408.9 521.5 L410.2 522.1 L411.6 522.6 L412.9 522.9 L414.2 523.1 L415.6 523.1 L416.9 523.1 L418.3 522.9 L419.6 522.7 L420.9 522.4 L422.3 522.0 L423.6 521.6 L425.0 521.0 L426.3 520.4" fill="none" stroke="#454545" stroke-width="1.0"/>
<rect x="246.7" y="414.3" width="185.9" height="114.3" fill="none" stroke="#7a7a7a" stroke-width="1"/>
<path d="M244.1 524.4H246.7M244.1 488.9H246.7M244.1 453.8H246.7M244.1 418.6H246.7M253.5 528.6v2.4M296.7 528.6v2.4M339.9 528.6v2.4M383.1 528.6v2.4M426.3 528.6v2.4" stroke="#6a6a6a" stroke-width="1" fill="none"/>
<path d="M253.5 527.9h2.5M256.7 527.9h4.0M261.9 527.9h3.7M266.9 527.9h3.3M271.1 527.9h3.9M276.3 527.9h1.5M278.5 527.9h2.5M282.5 527.9h3.2M287.0 527.9h2.3M290.0 527.9h2.6M293.5 527.9h1.1M295.8 527.9h1.6M298.4 527.9h3.9M303.5 527.9h2.1M313.4 527.9h2.5M316.4 527.9h2.6M320.2 527.9h0.3" stroke="#2fb3be" stroke-width="1.2" fill="none"/>
<path d="M394.6 527.9h3.7M398.7 527.9h1.2M404.3 527.9h1.8M406.5 527.9h1.8M408.9 527.9h1.1M410.8 527.9h3.9M416.1 527.9h2.2M419.2 527.9h3.0M422.9 527.9h2.4M426.1 527.9h0.2" stroke="#2fb3be" stroke-width="1.2" fill="none"/>
<text transform="translate(252.0 430.3) scale(1.07 1)" font-size="10.9" font-weight="bold" fill="#1e1e1e" stroke="none">(k)</text>
<text transform="translate(373.8 424.9) scale(1.09 1)" font-size="11.3" fill="#2a2a2a"><tspan font-family="'Liberation Serif', serif" font-size="10.8">Δ</tspan><tspan x="6.97" dy="2.6" font-size="7.2">1</tspan><tspan x="14.29" dy="-2.6" text-anchor="middle" font-size="10.4"> =</tspan><tspan x="43.94" text-anchor="end"> 0.14</tspan></text>
<text transform="translate(430.7 437.4) scale(1.105 1)" font-size="11.3" text-anchor="end" fill="#2a2a2a">(0.05 - 0.25)</text>
</g>
<g>
<path d="M460.3 524.5 L461.6 524.5 L463.0 524.5 L464.3 524.5 L465.7 524.5 L467.0 524.5 L468.3 524.5 L469.7 524.5 L471.0 524.5 L472.4 524.5 L473.7 524.5 L475.0 524.5 L476.4 524.5 L477.7 524.5 L479.1 524.5 L480.4 524.5 L481.7 524.5 L483.1 524.5 L484.4 524.5 L485.8 524.5 L487.1 524.5 L488.4 524.5 L489.8 524.5 L491.1 524.5 L492.4 524.5 L493.8 524.5 L495.1 524.5 L496.5 524.5 L497.8 524.4 L499.1 524.4 L500.5 524.4 L501.8 524.3 L503.2 524.2 L504.5 523.9 L505.8 523.6 L507.2 523.1 L508.5 522.4 L509.9 521.3 L511.2 519.9 L512.5 518.1 L513.9 515.8 L515.2 513.1 L516.6 510.1 L517.9 506.9 L519.2 503.5 L520.6 500.8 L521.9 498.0 L523.3 495.2 L524.6 492.2 L525.9 489.2 L527.3 486.1 L528.6 483.2 L530.0 480.3 L531.3 477.6 L532.6 475.1 L534.0 472.8 L535.3 471.0 L536.7 469.7 L538.0 468.8 L539.3 468.2 L540.7 467.9 L542.0 467.9 L543.4 468.0 L544.7 468.1 L546.0 468.0 L547.4 467.6 L548.7 466.7 L550.0 465.4 L551.4 463.9 L552.7 462.3 L554.1 460.5 L555.4 458.7 L556.7 456.7 L558.1 454.6 L559.4 452.5 L560.8 450.3 L562.1 448.2 L563.4 446.4 L564.8 445.0 L566.1 443.9 L567.5 443.1 L568.8 442.7 L570.1 442.8 L571.5 443.3 L572.8 444.2 L574.2 445.4 L575.5 447.0 L576.8 451.2 L578.2 458.8 L579.5 466.0 L580.9 472.8 L582.2 479.2 L583.5 485.3 L584.9 491.2 L586.2 496.6 L587.6 501.2 L588.9 505.2 L590.2 508.5 L591.6 511.1 L592.9 513.0 L594.3 514.5 L595.6 515.7 L596.9 516.6 L598.3 517.4 L599.6 518.2 L601.0 518.8 L602.3 519.4 L603.6 520.1 L605.0 520.7 L606.3 521.4 L607.6 522.0 L609.0 522.6 L610.3 523.1 L611.7 523.5 L613.0 523.8 L614.3 524.0 L615.7 524.2 L617.0 524.3 L618.4 524.4 L619.7 524.4 L621.0 524.4 L622.4 524.4 L623.7 524.5 L625.1 524.5 L626.4 524.5 L627.7 524.5 L629.1 524.5 L630.4 524.5 L631.8 524.5 L633.1 524.5 L633.1 524.5 L460.3 524.5Z" fill="#f0eed5"/>
<path d="M460.3 524.7H633.1" stroke="#5c5e60" stroke-width="1"/>
<path d="M460.3 524.5 L461.6 524.5 L463.0 524.5 L464.3 524.5 L465.7 524.5 L467.0 524.5 L468.3 524.5 L469.7 524.5 L471.0 524.5 L472.4 524.5 L473.7 524.5 L475.0 524.5 L476.4 524.5 L477.7 524.5 L479.1 524.5 L480.4 524.5 L481.7 524.5 L483.1 524.5 L484.4 524.5 L485.8 524.5 L487.1 524.5 L488.4 524.5 L489.8 524.5 L491.1 524.5 L492.4 524.5 L493.8 524.5 L495.1 524.5 L496.5 524.5 L497.8 524.4 L499.1 524.4 L500.5 524.4 L501.8 524.3 L503.2 524.2 L504.5 523.9 L505.8 523.6 L507.2 523.1 L508.5 522.4 L509.9 521.3 L511.2 519.9 L512.5 518.1 L513.9 515.8 L515.2 513.1 L516.6 510.1 L517.9 506.9 L519.2 503.5 L520.6 499.8 L521.9 495.8 L523.3 491.6 L524.6 487.1 L525.9 482.4 L527.3 477.7 L528.6 473.2 L530.0 468.8 L531.3 464.6 L532.6 460.8 L534.0 457.4 L535.3 454.3 L536.7 451.5 L538.0 449.2 L539.3 447.3 L540.7 445.9 L542.0 444.8 L543.4 444.1 L544.7 443.8 L546.0 443.7 L547.4 443.6 L548.7 443.6 L550.0 443.4 L551.4 442.9 L552.7 442.1 L554.1 440.8 L555.4 438.6 L556.7 436.0 L558.1 433.1 L559.4 429.9 L560.8 426.7 L562.1 424.1 L563.4 422.0 L564.8 420.5 L566.1 419.6 L567.5 419.6 L568.8 420.6 L570.1 422.5 L571.5 425.8 L572.8 430.8 L574.2 436.8 L575.5 443.7 L576.8 451.2 L578.2 458.8 L579.5 466.0 L580.9 472.8 L582.2 479.2 L583.5 485.3 L584.9 491.2 L586.2 496.6 L587.6 501.2 L588.9 505.2 L590.2 508.5 L591.6 511.1 L592.9 513.0 L594.3 514.5 L595.6 515.7 L596.9 516.6 L598.3 517.4 L599.6 518.2 L601.0 518.8 L602.3 519.4 L603.6 520.1 L605.0 520.7 L606.3 521.4 L607.6 522.0 L609.0 522.6 L610.3 523.1 L611.7 523.5 L613.0 523.8 L614.3 524.0 L615.7 524.2 L617.0 524.3 L618.4 524.4 L619.7 524.4 L621.0 524.4 L622.4 524.4 L623.7 524.5 L625.1 524.5 L626.4 524.5 L627.7 524.5 L629.1 524.5 L630.4 524.5 L631.8 524.5 L633.1 524.5" fill="none" stroke="#ebbf6a" stroke-width="1.0"/>
<path d="M460.3 521.0 L461.6 520.4 L463.0 519.9 L464.3 519.4 L465.7 518.9 L467.0 518.5 L468.3 518.2 L469.7 517.8 L471.0 517.6 L472.4 517.5 L473.7 517.5 L475.0 517.7 L476.4 518.0 L477.7 518.4 L479.1 518.8 L480.4 519.3 L481.7 519.7 L483.1 520.2 L484.4 520.6 L485.8 521.1 L487.1 521.5 L488.4 521.9 L489.8 522.2 L491.1 522.5 L492.4 522.8 L493.8 523.0 L495.1 523.1 L496.5 523.1 L497.8 523.0 L499.1 522.8 L500.5 522.5 L501.8 522.1 L503.2 521.7 L504.5 521.1 L505.8 520.4 L507.2 519.6 L508.5 518.6 L509.9 517.4 L511.2 516.1 L512.5 514.4 L513.9 512.6 L515.2 510.5 L516.6 508.3 L517.9 506.0 L519.2 503.5 L520.6 500.8 L521.9 498.0 L523.3 495.2 L524.6 492.2 L525.9 489.2 L527.3 486.1 L528.6 483.2 L530.0 480.3 L531.3 477.6 L532.6 475.1 L534.0 472.8 L535.3 471.0 L536.7 469.7 L538.0 468.8 L539.3 468.2 L540.7 467.9 L542.0 467.9 L543.4 468.0 L544.7 468.1 L546.0 468.0 L547.4 467.6 L548.7 466.7 L550.0 465.4 L551.4 463.9 L552.7 462.3 L554.1 460.5 L555.4 458.7 L556.7 456.7 L558.1 454.6 L559.4 452.5 L560.8 450.3 L562.1 448.2 L563.4 446.4 L564.8 445.0 L566.1 443.9 L567.5 443.1 L568.8 442.7 L570.1 442.8 L571.5 443.3 L572.8 444.2 L574.2 445.4 L575.5 447.0 L576.8 449.1 L578.2 451.6 L579.5 454.3 L580.9 457.1 L582.2 459.9 L583.5 462.8 L584.9 465.8 L586.2 468.7 L587.6 471.7 L588.9 474.7 L590.2 477.6 L591.6 480.6 L592.9 483.5 L594.3 486.5 L595.6 489.5 L596.9 492.5 L598.3 495.5 L599.6 498.4 L601.0 501.3 L602.3 504.0 L603.6 506.7 L605.0 509.2 L606.3 511.6 L607.6 513.7 L609.0 515.5 L610.3 517.1 L611.7 518.6 L613.0 519.8 L614.3 520.7 L615.7 521.5 L617.0 522.1 L618.4 522.6 L619.7 522.9 L621.0 523.1 L622.4 523.1 L623.7 523.1 L625.1 522.9 L626.4 522.7 L627.7 522.4 L629.1 522.0 L630.4 521.6 L631.8 521.0 L633.1 520.4" fill="none" stroke="#454545" stroke-width="1.0"/>
<rect x="453.5" y="414.3" width="186.2" height="114.3" fill="none" stroke="#7a7a7a" stroke-width="1"/>
<path d="M450.9 524.4H453.5M450.9 488.9H453.5M450.9 453.8H453.5M450.9 418.6H453.5M460.3 528.6v2.4M503.5 528.6v2.4M546.7 528.6v2.4M589.9 528.6v2.4M633.1 528.6v2.4" stroke="#6a6a6a" stroke-width="1" fill="none"/>
<path d="M535.9 528.3h1.6M538.8 528.3h2.2M541.6 528.3h1.1M543.4 528.3h2.1M547.2 528.3h2.2M551.0 528.3h2.0M559.0 528.3h2.2M561.9 528.3h3.0M566.0 528.3h3.0M570.2 528.3h2.0M574.0 528.3h1.8M579.9 528.3h2.8M584.2 528.3h1.6M586.8 528.3h1.6M591.6 528.3h2.9M595.1 528.3h2.5M599.3 528.3h2.0M601.9 528.3h2.3M606.2 528.3h1.0M608.7 528.3h2.8" stroke="#efc77a" stroke-width="1.0" fill="none"/>
<text transform="translate(457.7 427.8) scale(1.07 1)" font-size="10.9" font-weight="bold" fill="#1e1e1e" stroke="none">(l)</text>
<text transform="translate(575.6 426.4) scale(1.09 1)" font-size="11.3" fill="#2a2a2a"><tspan font-family="'Liberation Serif', serif" font-size="10.8">Δ</tspan><tspan x="6.97" dy="2.6" font-size="7.2">1</tspan><tspan x="13.74" dy="-2.6" text-anchor="middle" font-size="10.4"> =</tspan><tspan x="43.39" text-anchor="end"> 0.82</tspan></text>
<text transform="translate(637.9 439.1) scale(1.105 1)" font-size="11.3" text-anchor="end" fill="#2a2a2a">(0.66 - 0.95)</text>
</g>
<text transform="translate(34.2 54.9) scale(1.06 1) rotate(-90)" text-anchor="middle" font-size="10" fill="#3a3a3a">0.15</text>
<text transform="translate(34.2 87.6) scale(1.06 1) rotate(-90)" text-anchor="middle" font-size="10" fill="#3a3a3a">0.10</text>
<text transform="translate(34.2 123.5) scale(1.06 1) rotate(-90)" text-anchor="middle" font-size="10" fill="#3a3a3a">0.05</text>
<text transform="translate(34.2 153.0) scale(1.06 1) rotate(-90)" text-anchor="middle" font-size="10" fill="#3a3a3a">0</text>
<text transform="translate(34.2 179.2) scale(1.06 1) rotate(-90)" text-anchor="middle" font-size="10" fill="#3a3a3a">0.15</text>
<text transform="translate(34.2 209.3) scale(1.06 1) rotate(-90)" text-anchor="middle" font-size="10" fill="#3a3a3a">0.10</text>
<text transform="translate(34.2 245.3) scale(1.06 1) rotate(-90)" text-anchor="middle" font-size="10" fill="#3a3a3a">0.05</text>
<text transform="translate(34.2 274.9) scale(1.06 1) rotate(-90)" text-anchor="middle" font-size="10" fill="#3a3a3a">0</text>
<text transform="translate(34.2 302.7) scale(1.06 1) rotate(-90)" text-anchor="middle" font-size="10" fill="#3a3a3a">0.15</text>
<text transform="translate(34.2 333.1) scale(1.06 1) rotate(-90)" text-anchor="middle" font-size="10" fill="#3a3a3a">0.10</text>
<text transform="translate(34.2 369.1) scale(1.06 1) rotate(-90)" text-anchor="middle" font-size="10" fill="#3a3a3a">0.05</text>
<text transform="translate(34.2 397.7) scale(1.06 1) rotate(-90)" text-anchor="middle" font-size="10" fill="#3a3a3a">0</text>
<text transform="translate(34.2 425.4) scale(1.06 1) rotate(-90)" text-anchor="middle" font-size="10" fill="#3a3a3a">0.15</text>
<text transform="translate(34.2 458.7) scale(1.06 1) rotate(-90)" text-anchor="middle" font-size="10" fill="#3a3a3a">0.10</text>
<text transform="translate(34.2 494.5) scale(1.06 1) rotate(-90)" text-anchor="middle" font-size="10" fill="#3a3a3a">0.05</text>
<text transform="translate(34.2 526.0) scale(1.06 1) rotate(-90)" text-anchor="middle" font-size="10" fill="#3a3a3a">0</text>
<text transform="translate(49.6 541.3) scale(1.05 1)" text-anchor="middle" font-size="10.9" fill="#3a3a3a">0:00</text>
<text transform="translate(89.7 541.3) scale(1.05 1)" text-anchor="middle" font-size="10.9" fill="#3a3a3a">6:00</text>
<text transform="translate(130.4 541.3) scale(1.05 1)" text-anchor="middle" font-size="10.9" fill="#3a3a3a">12:00</text>
<text transform="translate(174.1 541.3) scale(1.05 1)" text-anchor="middle" font-size="10.9" fill="#3a3a3a">18:00</text>
<text transform="translate(213.6 541.3) scale(1.05 1)" text-anchor="middle" font-size="10.9" fill="#3a3a3a">24:00</text>
<text transform="translate(256.6 541.3) scale(1.05 1)" text-anchor="middle" font-size="10.9" fill="#3a3a3a">0:00</text>
<text transform="translate(294.0 541.3) scale(1.05 1)" text-anchor="middle" font-size="10.9" fill="#3a3a3a">6:00</text>
<text transform="translate(337.5 541.3) scale(1.05 1)" text-anchor="middle" font-size="10.9" fill="#3a3a3a">12:00</text>
<text transform="translate(380.4 541.3) scale(1.05 1)" text-anchor="middle" font-size="10.9" fill="#3a3a3a">18:00</text>
<text transform="translate(423.8 541.3) scale(1.05 1)" text-anchor="middle" font-size="10.9" fill="#3a3a3a">24:00</text>
<text transform="translate(463.7 541.3) scale(1.05 1)" text-anchor="middle" font-size="10.9" fill="#3a3a3a">0:00</text>
<text transform="translate(502.0 541.3) scale(1.05 1)" text-anchor="middle" font-size="10.9" fill="#3a3a3a">6:00</text>
<text transform="translate(544.9 541.3) scale(1.05 1)" text-anchor="middle" font-size="10.9" fill="#3a3a3a">12:00</text>
<text transform="translate(588.1 541.3) scale(1.05 1)" text-anchor="middle" font-size="10.9" fill="#3a3a3a">18:00</text>
<text transform="translate(631.3 541.3) scale(1.05 1)" text-anchor="middle" font-size="10.9" fill="#3a3a3a">24:00</text>
<text x="347.9" y="567.6" text-anchor="middle" font-size="17.7" fill="#222" textLength="38.4" lengthAdjust="spacingAndGlyphs">Time</text>
<text transform="translate(12.6 269.9) rotate(-90)" text-anchor="middle" font-size="13.9" fill="#222" textLength="49.2" lengthAdjust="spacingAndGlyphs">Density</text>
</g>
<g transform="translate(95 0) scale(0.09873)" fill="#1c1a1a"><path d="M345.0 3.0C352.5 0.2 357.5 7.0 368.0 18.0C378.5 29.0 381.4 35.5 390.0 50.0C398.6 64.5 393.3 70.0 405.0 80.0C416.7 90.0 424.8 85.3 440.0 93.0C455.2 100.7 459.3 102.0 470.0 113.0C480.7 124.0 484.6 127.6 486.0 140.0C487.4 152.4 482.3 157.1 476.0 166.0C469.7 174.9 464.8 170.1 459.0 178.0C453.2 185.9 451.7 183.2 451.0 200.0C450.3 216.8 457.2 230.2 456.0 250.0C454.8 269.8 451.4 271.0 446.0 285.0C440.6 299.0 433.0 294.8 433.0 310.0C433.0 325.2 446.2 336.7 446.0 350.0C445.8 363.3 440.4 362.3 432.0 367.0C423.6 371.7 418.2 373.0 410.0 370.0C401.8 367.0 400.7 364.5 397.0 354.0C393.3 343.5 400.3 332.5 394.0 325.0C387.7 317.5 383.8 319.0 370.0 322.0C356.2 325.0 350.9 332.4 335.0 338.0C319.1 343.6 308.5 340.4 302.0 346.0C295.5 351.6 314.5 356.4 307.0 362.0C299.5 367.6 286.8 370.0 270.0 370.0C253.2 370.0 248.3 368.5 235.0 362.0C221.7 355.5 222.8 352.7 213.0 342.0C203.2 331.3 198.4 328.1 193.0 316.0C187.6 303.9 188.6 303.5 190.0 290.0C191.4 276.5 190.8 276.0 199.0 258.0C207.2 240.0 207.3 230.5 225.0 213.0C242.7 195.5 248.2 194.7 275.0 183.0C301.8 171.3 316.4 172.6 340.0 163.0C363.6 153.4 370.4 153.0 376.0 142.0C381.6 131.0 374.0 127.2 364.0 116.0C354.0 104.8 346.8 105.7 333.0 94.0C319.2 82.3 314.6 77.7 305.0 66.0C295.4 54.3 288.0 49.8 292.0 44.0C296.0 38.2 309.2 38.2 322.0 41.0C334.8 43.8 343.7 58.6 347.0 56.0C350.3 53.4 336.5 42.4 336.0 30.0C335.5 17.6 337.5 5.8 345.0 3.0Z"/></g>
<g transform="translate(300 0) scale(0.09873)" fill="#1c1a1a"><path d="M180.0 170.0C180.0 150.2 181.8 147.5 190.0 130.0C198.2 112.5 196.3 111.8 215.0 95.0C233.7 78.2 240.8 68.5 270.0 58.0C299.2 47.5 315.5 49.5 340.0 50.0C364.5 50.5 366.8 61.9 375.0 60.0C383.2 58.1 369.2 48.5 375.0 42.0C380.8 35.5 386.0 33.6 400.0 32.0C414.0 30.4 424.3 29.6 435.0 35.0C445.7 40.4 444.4 42.2 446.0 55.0C447.6 67.8 436.4 74.8 442.0 90.0C447.6 105.2 458.8 106.0 470.0 120.0C481.2 134.0 481.1 134.8 490.0 150.0C498.9 165.2 509.2 173.3 508.0 185.0C506.8 196.7 498.1 195.3 485.0 200.0C471.9 204.7 457.4 200.3 452.0 205.0C446.6 209.7 464.8 214.6 462.0 220.0C459.2 225.4 451.7 228.9 440.0 228.0C428.3 227.1 425.5 216.5 412.0 216.0C398.5 215.5 390.6 219.9 382.0 226.0C373.4 232.1 387.1 237.3 375.0 242.0C362.9 246.7 354.5 244.1 330.0 246.0C305.5 247.9 295.7 251.4 270.0 250.0C244.3 248.6 238.7 248.2 220.0 240.0C201.3 231.8 199.3 231.3 190.0 215.0C180.7 198.7 180.0 189.8 180.0 170.0Z"/><path d="M197.2 216.9L196.1 218.6L194.6 220.6L192.8 223.0L190.7 225.8L188.4 228.9L185.9 232.2L183.4 235.7L180.8 239.4L178.4 243.1L176.0 246.8L173.8 250.6L171.9 254.3L170.2 257.8L168.7 261.4L167.2 265.1L165.9 268.9L164.6 272.6L163.4 276.4L162.4 280.1L161.5 283.7L160.7 287.3L160.1 290.7L159.7 294.1L159.5 297.4L159.6 300.6L159.9 303.8L160.4 306.8L161.2 309.7L162.2 312.5L163.5 315.2L165.0 317.6L166.7 319.9L168.6 322.0L170.9 323.9L173.3 325.5L176.2 326.8L179.6 327.6L182.9 327.8L185.8 327.6L188.5 327.0L191.0 326.2L193.2 325.4L195.4 324.4L197.6 323.5L199.7 322.6L201.7 321.7L203.8 320.8L206.0 320.0L208.7 319.0L211.6 317.8L214.4 316.5L217.1 315.2L219.9 313.9L222.7 312.6L225.4 311.4L228.1 310.3L230.8 309.3L233.5 308.5L236.1 307.9L238.8 307.5L241.8 307.2L244.9 307.0L248.2 306.9L251.5 306.9L254.9 307.0L258.3 307.3L261.8 307.6L265.4 308.1L269.0 308.7L272.6 309.4L276.2 310.2L279.8 311.2L283.4 312.3L287.2 313.6L291.0 315.1L295.0 316.8L299.0 318.6L303.0 320.5L307.1 322.5L311.2 324.5L315.2 326.6L319.2 328.7L323.1 330.7L326.9 332.7L330.6 334.7L334.5 336.8L338.5 339.1L342.5 341.4L346.5 343.7L350.3 346.0L354.0 348.3L357.5 350.4L360.7 352.3L363.6 354.0L366.1 355.5L368.1 356.7L373.9 347.3L372.0 346.1L369.7 344.5L366.9 342.6L363.8 340.5L360.3 338.3L356.7 335.9L352.9 333.4L348.9 330.8L344.9 328.3L340.9 325.9L336.9 323.5L333.1 321.3L329.4 319.2L325.5 317.0L321.6 314.8L317.6 312.5L313.5 310.2L309.3 308.0L305.2 305.8L301.0 303.7L296.7 301.8L292.5 299.9L288.3 298.3L284.2 296.8L280.1 295.6L276.1 294.5L272.1 293.5L268.0 292.7L264.0 291.9L260.1 291.4L256.1 290.9L252.2 290.6L248.4 290.4L244.6 290.3L240.9 290.4L237.2 290.5L233.3 291.0L229.5 291.7L225.8 292.6L222.3 293.6L218.9 294.8L215.7 296.0L212.6 297.2L209.7 298.4L207.0 299.5L204.5 300.5L202.2 301.3L200.0 302.0L197.5 302.7L194.9 303.6L192.5 304.4L190.3 305.2L188.3 305.9L186.5 306.5L185.0 306.9L183.9 307.2L183.1 307.2L182.9 307.2L183.2 307.1L183.8 307.2L184.1 307.2L184.0 307.1L183.9 306.9L183.7 306.5L183.4 306.0L183.2 305.3L182.9 304.5L182.7 303.6L182.5 302.5L182.4 301.3L182.4 300.0L182.5 298.6L182.7 296.9L183.1 294.7L183.7 292.3L184.4 289.6L185.3 286.7L186.3 283.6L187.4 280.6L188.6 277.4L189.9 274.3L191.3 271.3L192.7 268.4L194.1 265.7L195.6 263.2L197.4 260.4L199.5 257.4L201.7 254.3L204.1 251.1L206.6 248.0L209.0 245.0L211.4 242.1L213.6 239.4L215.6 237.0L217.4 234.8L218.8 233.1Z"/></g>
<g transform="translate(510 0) scale(0.09873)" fill="#1c1a1a"><path d="M512.0 -4.0C519.7 -12.4 520.0 -16.3 530.0 -20.0C540.0 -23.7 545.2 -24.7 555.0 -20.0C564.8 -15.3 564.5 -11.0 572.0 0.0C579.5 11.0 588.2 16.5 587.0 27.0C585.8 37.5 574.9 37.3 567.0 45.0C559.1 52.7 557.7 49.5 553.0 60.0C548.3 70.5 546.1 73.7 547.0 90.0C547.9 106.3 553.7 112.5 557.0 130.0C560.3 147.5 562.9 142.8 561.0 165.0C559.1 187.2 559.5 199.8 549.0 225.0C538.5 250.2 533.0 256.0 516.0 273.0C499.0 290.0 490.9 291.5 476.0 298.0C461.1 304.5 457.6 293.5 452.0 301.0C446.4 308.5 451.1 317.2 452.0 330.0C452.9 342.8 445.5 347.4 456.0 356.0C466.5 364.6 496.1 361.6 497.0 367.0C497.9 372.4 465.8 372.0 460.0 379.0C454.2 386.0 475.3 395.4 472.0 397.0C468.7 398.6 456.3 384.8 446.0 386.0C435.7 387.2 431.5 403.9 428.0 402.0C424.5 400.1 434.7 384.8 431.0 378.0C427.3 371.2 411.8 377.2 412.0 373.0C412.2 368.8 428.3 376.3 432.0 360.0C435.7 343.7 432.2 315.8 428.0 303.0C423.8 290.2 417.7 296.4 414.0 305.0C410.3 313.6 417.6 323.2 412.0 340.0C406.4 356.8 399.1 369.5 390.0 377.0C380.9 384.5 373.5 380.6 373.0 372.0C372.5 363.4 383.3 354.7 388.0 340.0C392.7 325.3 394.2 318.1 393.0 309.0C391.8 299.9 395.4 302.9 383.0 301.0C370.6 299.1 359.4 296.3 340.0 301.0C320.6 305.7 316.3 313.3 300.0 321.0C283.7 328.7 273.7 341.2 270.0 334.0C266.3 326.8 277.2 313.8 284.0 290.0C290.8 266.2 288.5 259.5 299.0 232.0C309.5 204.5 310.3 195.6 329.0 172.0C347.7 148.4 353.1 145.9 379.0 131.0C404.9 116.1 418.1 118.7 440.0 108.0C461.9 97.3 462.7 98.5 473.0 85.0C483.3 71.5 478.4 66.1 484.0 50.0C489.6 33.9 490.5 28.6 497.0 16.0C503.5 3.4 504.3 4.4 512.0 -4.0Z"/></g>
<g transform="translate(639 80) scale(0.09873)" fill="#2b3133"><path d="M95.0 200.0C95.0 189.5 97.2 188.8 110.0 190.0C122.8 191.2 129.0 193.3 150.0 205.0C171.0 216.7 174.3 226.7 200.0 240.0C225.7 253.3 232.0 256.2 260.0 262.0C288.0 267.8 292.0 267.8 320.0 265.0C348.0 262.2 352.0 257.7 380.0 250.0C408.0 242.3 414.3 243.7 440.0 232.0C465.7 220.3 469.0 214.5 490.0 200.0C511.0 185.5 511.3 181.7 530.0 170.0C548.7 158.3 553.7 155.1 570.0 150.0C586.3 144.9 589.3 150.8 600.0 148.0C610.7 145.2 611.8 135.2 616.0 138.0C620.2 140.8 615.7 146.7 618.0 160.0C620.3 173.3 619.7 178.7 626.0 195.0C632.3 211.3 642.9 219.5 645.0 230.0C647.1 240.5 644.3 238.1 635.0 240.0C625.7 241.9 616.7 235.7 605.0 238.0C593.3 240.3 594.1 243.0 585.0 250.0C575.9 257.0 572.8 260.5 566.0 268.0C559.2 275.5 552.7 272.7 556.0 282.0C559.3 291.3 573.5 294.0 580.0 308.0C586.5 322.0 587.5 330.3 584.0 342.0C580.5 353.7 572.7 358.0 565.0 358.0C557.3 358.0 555.7 351.3 551.0 342.0C546.3 332.7 551.5 326.6 545.0 318.0C538.5 309.4 534.0 306.9 523.0 305.0C512.0 303.1 501.3 304.6 498.0 310.0C494.7 315.4 508.5 317.3 509.0 328.0C509.5 338.7 508.9 341.1 500.0 356.0C491.1 370.9 481.3 385.2 471.0 392.0C460.7 398.8 456.7 392.0 456.0 385.0C455.3 378.0 462.9 371.3 468.0 362.0C473.1 352.7 478.0 353.4 478.0 345.0C478.0 336.6 481.5 327.2 468.0 326.0C454.5 324.8 442.4 334.4 420.0 340.0C397.6 345.6 389.5 340.7 372.0 350.0C354.5 359.3 361.3 370.7 345.0 380.0C328.7 389.3 316.7 386.5 302.0 390.0C287.3 393.5 283.6 386.8 282.0 395.0C280.4 403.2 295.5 417.3 295.0 425.0C294.5 432.7 285.8 431.5 280.0 428.0C274.2 424.5 272.8 409.5 270.0 410.0C267.2 410.5 272.7 425.3 268.0 430.0C263.3 434.7 254.7 438.2 250.0 430.0C245.3 421.8 249.2 409.7 248.0 395.0C246.8 380.3 239.9 375.2 245.0 367.0C250.1 358.8 260.7 367.5 270.0 360.0C279.3 352.5 283.8 345.5 285.0 335.0C286.2 324.5 285.5 317.3 275.0 315.0C264.5 312.7 257.5 326.2 240.0 325.0C222.5 323.8 221.0 322.8 200.0 310.0C179.0 297.2 171.0 287.5 150.0 270.0C129.0 252.5 122.8 251.3 110.0 235.0C97.2 218.7 95.0 210.5 95.0 200.0Z"/></g>
<g transform="translate(639 195) scale(0.09873)" fill="#1c1a1a"><path d="M150.0 358.0C148.1 350.1 162.2 342.5 168.0 322.0C173.8 301.5 169.9 296.1 175.0 270.0C180.1 243.9 179.5 238.0 190.0 210.0C200.5 182.0 203.7 171.9 220.0 150.0C236.3 128.1 236.7 125.8 260.0 116.0C283.3 106.2 292.0 104.7 320.0 108.0C348.0 111.3 352.0 122.5 380.0 130.0C408.0 137.5 412.0 135.3 440.0 140.0C468.0 144.7 475.5 151.2 500.0 150.0C524.5 148.8 524.0 135.0 545.0 135.0C566.0 135.0 570.2 139.5 590.0 150.0C609.8 160.5 612.3 167.2 630.0 180.0C647.7 192.8 659.0 192.2 666.0 205.0C673.0 217.8 670.7 224.5 660.0 235.0C649.3 245.5 638.7 245.1 620.0 250.0C601.3 254.9 598.7 246.7 580.0 256.0C561.3 265.3 558.2 275.1 540.0 290.0C521.8 304.9 513.7 306.0 502.0 320.0C490.3 334.0 491.4 334.8 490.0 350.0C488.6 365.2 485.3 374.5 496.0 385.0C506.7 395.5 528.1 387.8 536.0 395.0C543.9 402.2 545.4 410.6 530.0 416.0C514.6 421.4 491.0 420.6 470.0 418.0C449.0 415.4 451.2 420.4 440.0 405.0C428.8 389.6 431.3 368.8 422.0 352.0C412.7 335.2 419.1 337.0 400.0 333.0C380.9 329.0 359.1 332.9 340.0 335.0C320.9 337.1 322.2 331.5 318.0 342.0C313.8 352.5 314.1 367.6 322.0 380.0C329.9 392.4 345.9 387.8 352.0 395.0C358.1 402.2 360.1 407.3 348.0 411.0C335.9 414.7 316.3 417.8 300.0 411.0C283.7 404.2 285.0 395.3 278.0 382.0C271.0 368.7 274.4 360.1 270.0 354.0C265.6 347.9 262.3 348.8 259.0 356.0C255.7 363.2 252.5 375.7 256.0 385.0C259.5 394.3 271.2 390.4 274.0 396.0C276.8 401.6 279.2 406.4 268.0 409.0C256.8 411.6 241.2 415.6 226.0 407.0C210.8 398.4 210.2 389.0 203.0 372.0C195.8 355.0 201.3 337.7 195.0 334.0C188.7 330.3 186.5 350.4 176.0 356.0C165.5 361.6 151.9 365.9 150.0 358.0Z"/></g>
<g transform="translate(639 325) scale(0.09873)" fill="#1c1a1a"><path d="M502.0 122.0C510.2 115.2 508.1 136.0 516.0 136.0C523.9 136.0 529.0 119.7 536.0 122.0C543.0 124.3 537.6 134.3 546.0 146.0C554.4 157.7 572.0 162.7 572.0 172.0C572.0 181.3 555.3 176.0 546.0 186.0C536.7 196.0 536.2 195.4 532.0 215.0C527.8 234.6 529.4 245.5 528.0 270.0C526.6 294.5 523.2 297.8 526.0 320.0C528.8 342.2 540.0 352.6 540.0 365.0C540.0 377.4 532.8 377.4 526.0 373.0C519.2 368.6 515.9 360.2 511.0 346.0C506.1 331.8 507.6 313.4 505.0 312.0C502.4 310.6 498.4 324.1 500.0 340.0C501.6 355.9 512.9 369.3 512.0 380.0C511.1 390.7 503.2 393.0 496.0 386.0C488.8 379.0 487.1 362.6 481.0 350.0C474.9 337.4 474.7 329.7 470.0 332.0C465.3 334.3 461.0 349.3 461.0 360.0C461.0 370.7 474.9 370.5 470.0 378.0C465.1 385.5 458.7 389.0 440.0 392.0C421.3 395.0 406.8 393.1 390.0 391.0C373.2 388.9 379.7 383.2 368.0 383.0C356.3 382.8 360.5 384.4 340.0 390.0C319.5 395.6 312.7 401.6 280.0 407.0C247.3 412.4 235.0 414.4 200.0 413.0C165.0 411.6 155.7 408.0 130.0 401.0C104.3 394.0 111.0 389.8 90.0 383.0C69.0 376.2 47.0 378.5 40.0 372.0C33.0 365.5 43.7 358.5 60.0 355.0C76.3 351.5 84.3 352.1 110.0 357.0C135.7 361.9 139.7 370.9 170.0 376.0C200.3 381.1 207.3 382.0 240.0 379.0C272.7 376.0 282.0 370.7 310.0 363.0C338.0 355.3 346.9 358.4 360.0 346.0C373.1 333.6 359.0 330.1 366.0 310.0C373.0 289.9 377.4 281.9 390.0 260.0C402.6 238.1 401.3 230.9 420.0 216.0C438.7 201.1 455.8 207.9 470.0 196.0C484.2 184.1 473.5 182.3 481.0 165.0C488.5 147.7 493.8 128.8 502.0 122.0Z"/></g>
<g transform="translate(639 450) scale(0.09873)" fill="#1c1a1a"><path d="M76.0 119.0C68.8 116.2 61.1 124.0 52.0 134.0C42.9 144.0 39.1 146.6 37.0 162.0C34.9 177.4 35.3 183.0 43.0 200.0C50.7 217.0 54.4 221.0 70.0 235.0C85.6 249.0 89.0 252.3 110.0 260.0C131.0 267.7 134.3 266.8 160.0 268.0C185.7 269.2 196.7 264.5 220.0 265.0C243.3 265.5 244.8 269.3 260.0 270.0C275.2 270.7 281.5 263.3 285.0 268.0C288.5 272.7 280.4 280.7 275.0 290.0C269.6 299.3 260.6 303.1 262.0 308.0C263.4 312.9 272.1 316.1 281.0 311.0C289.9 305.9 292.1 288.6 300.0 286.0C307.9 283.4 308.9 291.8 315.0 300.0C321.1 308.2 318.8 316.8 326.0 321.0C333.2 325.2 344.8 323.8 346.0 318.0C347.2 312.2 335.7 304.9 331.0 296.0C326.3 287.1 314.6 284.9 326.0 280.0C337.4 275.1 353.4 278.5 380.0 275.0C406.6 271.5 419.0 266.2 440.0 265.0C461.0 263.8 462.8 261.8 470.0 270.0C477.2 278.2 471.5 288.3 471.0 300.0C470.5 311.7 463.8 315.1 468.0 320.0C472.2 324.9 483.2 328.0 489.0 321.0C494.8 314.0 489.0 301.9 493.0 290.0C497.0 278.1 490.4 274.7 506.0 270.0C521.6 265.3 540.4 263.0 560.0 270.0C579.6 277.0 576.0 286.9 590.0 300.0C604.0 313.1 608.1 317.6 620.0 326.0C631.9 334.4 636.1 337.4 641.0 336.0C645.9 334.6 646.8 329.3 641.0 320.0C635.2 310.7 625.3 308.6 616.0 296.0C606.7 283.4 599.8 278.8 601.0 266.0C602.2 253.2 602.6 248.2 621.0 241.0C639.4 233.8 659.5 241.1 680.0 235.0C700.5 228.9 706.4 224.3 709.0 215.0C711.6 205.7 704.8 202.7 691.0 195.0C677.2 187.3 671.2 185.0 650.0 182.0C628.8 179.0 630.3 182.5 600.0 182.0C569.7 181.5 557.3 181.6 520.0 180.0C482.7 178.4 477.3 177.3 440.0 175.0C402.7 172.7 390.3 169.3 360.0 170.0C329.7 170.7 331.0 171.0 310.0 178.0C289.0 185.0 288.7 188.3 270.0 200.0C251.3 211.7 251.0 216.8 230.0 228.0C209.0 239.2 203.3 244.0 180.0 248.0C156.7 252.0 150.5 251.1 130.0 245.0C109.5 238.9 105.5 234.1 92.0 222.0C78.5 209.9 77.4 205.1 72.0 193.0C66.6 180.9 66.4 181.0 69.0 170.0C71.6 159.0 81.4 157.9 83.0 146.0C84.6 134.1 83.2 121.8 76.0 119.0Z"/></g>
</svg></body></html>
